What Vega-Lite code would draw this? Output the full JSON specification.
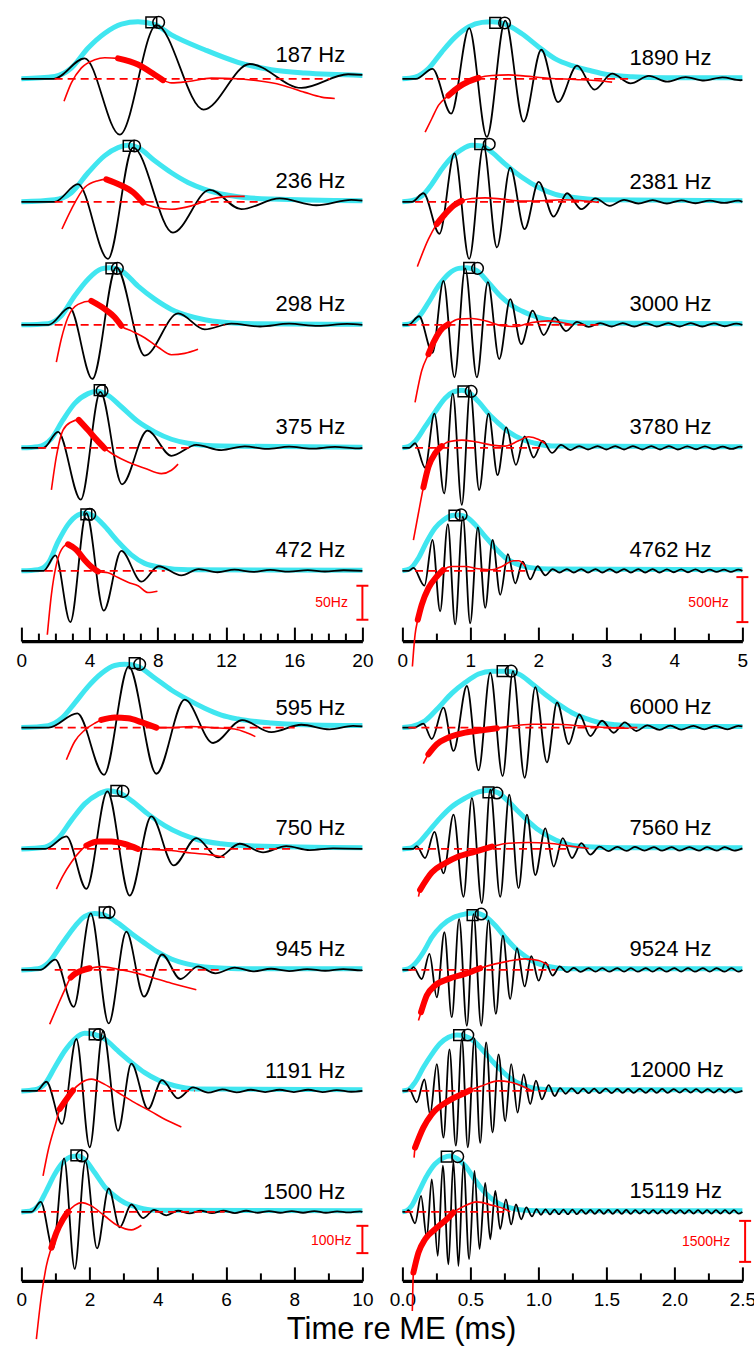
{
"$schema":"https://vega.github.io/schema/vega-lite/v6.json",
"padding":{"left":11.4,"top":10.9,"right":2,"bottom":0},
"background":"white",
"config":{"view":{"stroke":null},"font":"Liberation Sans","axis":{"tickWidth":2,"tickColor":"#000","domainColor":"#000","domainWidth":3.3,"labelFontSize":19,"labelColor":"#000","labelPadding":24,"labelFlush":false,"labelOverlap":false,"grid":false}},
"title":{"text":"Time re ME (ms)","orient":"bottom","fontSize":31,"fontWeight":"normal","color":"#000","anchor":"middle","offset":-27,"dx":18},
"datasets":{"d":[
{"f":187,"s":"w","t":0,"v":0},{"f":187,"s":"w","t":1.9,"v":0},{"f":187,"s":"w","t":3.71,"v":36},{"f":187,"s":"w","t":5.77,"v":-98},{"f":187,"s":"w","t":7.92,"v":94},{"f":187,"s":"w","t":10.69,"v":-54},{"f":187,"s":"w","t":13.39,"v":26},{"f":187,"s":"w","t":16.42,"v":-16},{"f":187,"s":"w","t":19.16,"v":8},{"f":187,"s":"w","t":20,"v":7},
{"f":187,"s":"e","t":0,"v":0},{"f":187,"s":"e","t":1.95,"v":4},{"f":187,"s":"e","t":2.93,"v":19},{"f":187,"s":"e","t":3.91,"v":54},{"f":187,"s":"e","t":4.89,"v":80},{"f":187,"s":"e","t":5.87,"v":96},{"f":187,"s":"e","t":6.84,"v":100},{"f":187,"s":"e","t":7.82,"v":95},{"f":187,"s":"e","t":8.8,"v":77},{"f":187,"s":"e","t":10.75,"v":51},{"f":187,"s":"e","t":12.7,"v":29},{"f":187,"s":"e","t":14.66,"v":16},{"f":187,"s":"e","t":16.62,"v":10},{"f":187,"s":"e","t":20,"v":6},
{"f":187,"s":"r","t":2.5,"v":-33},{"f":187,"s":"r","t":2.93,"v":-6},{"f":187,"s":"r","t":3.52,"v":16},{"f":187,"s":"r","t":4.3,"v":28},{"f":187,"s":"r","t":4.89,"v":31},{"f":187,"s":"r","t":5.67,"v":30},{"f":187,"s":"r","t":6.84,"v":21},{"f":187,"s":"r","t":7.82,"v":6},{"f":187,"s":"r","t":8.31,"v":-2},{"f":187,"s":"r","t":8.8,"v":-6},{"f":187,"s":"r","t":9.77,"v":-4},{"f":187,"s":"r","t":11.14,"v":1},{"f":187,"s":"r","t":12.7,"v":0},{"f":187,"s":"r","t":13.88,"v":-3},{"f":187,"s":"r","t":15.25,"v":-9},{"f":187,"s":"r","t":16.62,"v":-20},{"f":187,"s":"r","t":17.6,"v":-27},{"f":187,"s":"r","t":18.38,"v":-29},
{"f":187,"s":"k","t":5.67,"v":30},{"f":187,"s":"k","t":6.84,"v":21},{"f":187,"s":"k","t":7.82,"v":6},{"f":187,"s":"k","t":8.31,"v":-2},
{"f":187,"s":"d","t":1.95,"v":0},{"f":187,"s":"d","t":18.1,"v":0},
{"f":187,"s":"q","t":7.62,"v":99},{"f":187,"s":"c","t":8.05,"v":99},{"f":187,"s":"L","t":18.99,"v":42,"l":"187 Hz"},
{"f":236,"s":"w","t":0,"v":0},{"f":236,"s":"w","t":1.95,"v":0},{"f":236,"s":"w","t":3.32,"v":31},{"f":236,"s":"w","t":5.08,"v":-100},{"f":236,"s":"w","t":6.55,"v":95},{"f":236,"s":"w","t":8.89,"v":-54},{"f":236,"s":"w","t":11.04,"v":21},{"f":236,"s":"w","t":12.9,"v":-13},{"f":236,"s":"w","t":15.15,"v":6},{"f":236,"s":"w","t":17.3,"v":-6},{"f":236,"s":"w","t":19.35,"v":3.5},{"f":236,"s":"w","t":20,"v":2},
{"f":236,"s":"e","t":0,"v":0},{"f":236,"s":"e","t":1.95,"v":3.5},{"f":236,"s":"e","t":2.93,"v":16},{"f":236,"s":"e","t":3.91,"v":51},{"f":236,"s":"e","t":4.89,"v":81},{"f":236,"s":"e","t":5.67,"v":95},{"f":236,"s":"e","t":6.25,"v":99},{"f":236,"s":"e","t":6.84,"v":95},{"f":236,"s":"e","t":7.82,"v":72},{"f":236,"s":"e","t":8.8,"v":51},{"f":236,"s":"e","t":9.77,"v":34},{"f":236,"s":"e","t":10.75,"v":22},{"f":236,"s":"e","t":12.7,"v":9},{"f":236,"s":"e","t":14.66,"v":5},{"f":236,"s":"e","t":20,"v":2},
{"f":236,"s":"r","t":2.38,"v":-40},{"f":236,"s":"r","t":2.93,"v":-11},{"f":236,"s":"r","t":3.71,"v":21},{"f":236,"s":"r","t":4.49,"v":31},{"f":236,"s":"r","t":4.98,"v":33},{"f":236,"s":"r","t":5.86,"v":24},{"f":236,"s":"r","t":6.55,"v":14},{"f":236,"s":"r","t":7.13,"v":-1},{"f":236,"s":"r","t":7.82,"v":-8},{"f":236,"s":"r","t":8.8,"v":-11},{"f":236,"s":"r","t":9.97,"v":-6},{"f":236,"s":"r","t":11.14,"v":4},{"f":236,"s":"r","t":12.31,"v":8},{"f":236,"s":"r","t":13.1,"v":8},
{"f":236,"s":"k","t":4.98,"v":33},{"f":236,"s":"k","t":5.86,"v":24},{"f":236,"s":"k","t":6.55,"v":14},{"f":236,"s":"k","t":7.13,"v":-1},
{"f":236,"s":"d","t":1.95,"v":0},{"f":236,"s":"d","t":14.07,"v":0},
{"f":236,"s":"q","t":6.29,"v":98},{"f":236,"s":"c","t":6.64,"v":98},{"f":236,"s":"L","t":18.99,"v":36,"l":"236 Hz"},
{"f":298,"s":"w","t":0,"v":0},{"f":298,"s":"w","t":1.6,"v":0},{"f":298,"s":"w","t":2.83,"v":30},{"f":298,"s":"w","t":4.16,"v":-95},{"f":298,"s":"w","t":5.57,"v":101},{"f":298,"s":"w","t":7.23,"v":-54},{"f":298,"s":"w","t":9.19,"v":20},{"f":298,"s":"w","t":10.75,"v":-8},{"f":298,"s":"w","t":12.31,"v":2},{"f":298,"s":"w","t":14.0,"v":-3},{"f":298,"s":"w","t":15.7,"v":2},{"f":298,"s":"w","t":17.4,"v":-2},{"f":298,"s":"w","t":19.1,"v":1.5},{"f":298,"s":"w","t":20,"v":0},
{"f":298,"s":"e","t":0,"v":0},{"f":298,"s":"e","t":1.56,"v":2},{"f":298,"s":"e","t":2.34,"v":16},{"f":298,"s":"e","t":3.13,"v":51},{"f":298,"s":"e","t":3.91,"v":80},{"f":298,"s":"e","t":4.69,"v":98},{"f":298,"s":"e","t":5.18,"v":100},{"f":298,"s":"e","t":5.86,"v":95},{"f":298,"s":"e","t":6.84,"v":68},{"f":298,"s":"e","t":7.82,"v":45},{"f":298,"s":"e","t":8.8,"v":27},{"f":298,"s":"e","t":9.77,"v":16},{"f":298,"s":"e","t":10.75,"v":9},{"f":298,"s":"e","t":11.73,"v":5},{"f":298,"s":"e","t":13.68,"v":2},{"f":298,"s":"e","t":20,"v":1},
{"f":298,"s":"r","t":2.05,"v":-55},{"f":298,"s":"r","t":2.34,"v":-21},{"f":298,"s":"r","t":2.73,"v":11},{"f":298,"s":"r","t":3.32,"v":30},{"f":298,"s":"r","t":4.1,"v":35},{"f":298,"s":"r","t":4.89,"v":23},{"f":298,"s":"r","t":5.47,"v":11},{"f":298,"s":"r","t":5.86,"v":-1.5},{"f":298,"s":"r","t":6.45,"v":-9},{"f":298,"s":"r","t":7.23,"v":-19},{"f":298,"s":"r","t":8.02,"v":-33},{"f":298,"s":"r","t":8.8,"v":-44},{"f":298,"s":"r","t":9.58,"v":-42},{"f":298,"s":"r","t":10.36,"v":-36},
{"f":298,"s":"k","t":4.1,"v":35},{"f":298,"s":"k","t":4.89,"v":23},{"f":298,"s":"k","t":5.47,"v":11},{"f":298,"s":"k","t":5.86,"v":-1.5},
{"f":298,"s":"d","t":1.95,"v":0},{"f":298,"s":"d","t":11.92,"v":0},
{"f":298,"s":"q","t":5.28,"v":99},{"f":298,"s":"c","t":5.63,"v":99},{"f":298,"s":"L","t":18.99,"v":36,"l":"298 Hz"},
{"f":375,"s":"w","t":0,"v":0},{"f":375,"s":"w","t":1.3,"v":0},{"f":375,"s":"w","t":2.15,"v":28},{"f":375,"s":"w","t":3.48,"v":-91},{"f":375,"s":"w","t":4.63,"v":98},{"f":375,"s":"w","t":5.9,"v":-64},{"f":375,"s":"w","t":7.39,"v":30},{"f":375,"s":"w","t":8.8,"v":-14},{"f":375,"s":"w","t":10.26,"v":5},{"f":375,"s":"w","t":11.73,"v":-4},{"f":375,"s":"w","t":13.1,"v":2.5},{"f":375,"s":"w","t":14.4,"v":-2},{"f":375,"s":"w","t":15.7,"v":2},{"f":375,"s":"w","t":17.0,"v":-1.5},{"f":375,"s":"w","t":18.4,"v":1.5},{"f":375,"s":"w","t":19.7,"v":-1},{"f":375,"s":"w","t":20,"v":0},
{"f":375,"s":"e","t":0,"v":0},{"f":375,"s":"e","t":0.98,"v":2},{"f":375,"s":"e","t":1.76,"v":16},{"f":375,"s":"e","t":2.44,"v":49},{"f":375,"s":"e","t":3.13,"v":78},{"f":375,"s":"e","t":3.91,"v":95},{"f":375,"s":"e","t":4.4,"v":99},{"f":375,"s":"e","t":5.08,"v":92},{"f":375,"s":"e","t":5.86,"v":72},{"f":375,"s":"e","t":6.84,"v":46},{"f":375,"s":"e","t":7.82,"v":28},{"f":375,"s":"e","t":8.8,"v":15},{"f":375,"s":"e","t":9.77,"v":8},{"f":375,"s":"e","t":11.73,"v":3},{"f":375,"s":"e","t":20,"v":1},
{"f":375,"s":"r","t":1.76,"v":-62},{"f":375,"s":"r","t":2.05,"v":-13},{"f":375,"s":"r","t":2.44,"v":26},{"f":375,"s":"r","t":2.93,"v":38},{"f":375,"s":"r","t":3.36,"v":41},{"f":375,"s":"r","t":3.91,"v":26},{"f":375,"s":"r","t":4.4,"v":12},{"f":375,"s":"r","t":4.89,"v":-1},{"f":375,"s":"r","t":5.47,"v":-11},{"f":375,"s":"r","t":6.25,"v":-21},{"f":375,"s":"r","t":7.23,"v":-30},{"f":375,"s":"r","t":8.21,"v":-38},{"f":375,"s":"r","t":8.8,"v":-33},{"f":375,"s":"r","t":9.19,"v":-24},
{"f":375,"s":"k","t":3.36,"v":41},{"f":375,"s":"k","t":3.91,"v":26},{"f":375,"s":"k","t":4.4,"v":12},{"f":375,"s":"k","t":4.89,"v":-1},
{"f":375,"s":"d","t":0.98,"v":0},{"f":375,"s":"d","t":9.97,"v":0},
{"f":375,"s":"q","t":4.59,"v":101},{"f":375,"s":"c","t":4.73,"v":100},{"f":375,"s":"L","t":18.99,"v":36,"l":"375 Hz"},
{"f":472,"s":"w","t":0,"v":0},{"f":472,"s":"w","t":1.3,"v":0},{"f":472,"s":"w","t":2.0,"v":27},{"f":472,"s":"w","t":2.87,"v":-90},{"f":472,"s":"w","t":3.81,"v":101},{"f":472,"s":"w","t":4.83,"v":-70},{"f":472,"s":"w","t":5.86,"v":35},{"f":472,"s":"w","t":7.04,"v":-19},{"f":472,"s":"w","t":8.05,"v":8},{"f":472,"s":"w","t":9.38,"v":-8},{"f":472,"s":"w","t":10.4,"v":3},{"f":472,"s":"w","t":11.5,"v":-2.5},{"f":472,"s":"w","t":12.5,"v":2},{"f":472,"s":"w","t":13.6,"v":-2},{"f":472,"s":"w","t":14.6,"v":1.5},{"f":472,"s":"w","t":15.7,"v":-1.5},{"f":472,"s":"w","t":16.8,"v":1.2},{"f":472,"s":"w","t":17.8,"v":-1.2},{"f":472,"s":"w","t":18.9,"v":1},{"f":472,"s":"w","t":20,"v":0},
{"f":472,"s":"e","t":0,"v":0},{"f":472,"s":"e","t":0.98,"v":2},{"f":472,"s":"e","t":1.56,"v":13},{"f":472,"s":"e","t":2.15,"v":51},{"f":472,"s":"e","t":2.73,"v":81},{"f":472,"s":"e","t":3.32,"v":98},{"f":472,"s":"e","t":3.71,"v":101},{"f":472,"s":"e","t":4.3,"v":95},{"f":472,"s":"e","t":4.89,"v":78},{"f":472,"s":"e","t":5.67,"v":51},{"f":472,"s":"e","t":6.45,"v":28},{"f":472,"s":"e","t":7.23,"v":13},{"f":472,"s":"e","t":8.21,"v":6},{"f":472,"s":"e","t":9.77,"v":2},{"f":472,"s":"e","t":20,"v":1},
{"f":472,"s":"r","t":1.52,"v":-94},{"f":472,"s":"r","t":1.76,"v":-35},{"f":472,"s":"r","t":2.05,"v":9},{"f":472,"s":"r","t":2.35,"v":31},{"f":472,"s":"r","t":2.73,"v":39},{"f":472,"s":"r","t":3.22,"v":31},{"f":472,"s":"r","t":3.71,"v":16},{"f":472,"s":"r","t":4.1,"v":6},{"f":472,"s":"r","t":4.49,"v":-1},{"f":472,"s":"r","t":5.08,"v":-3},{"f":472,"s":"r","t":5.67,"v":-10},{"f":472,"s":"r","t":6.25,"v":-17},{"f":472,"s":"r","t":6.84,"v":-22},{"f":472,"s":"r","t":7.43,"v":-32},{"f":472,"s":"r","t":7.98,"v":-30},
{"f":472,"s":"k","t":2.73,"v":39},{"f":472,"s":"k","t":3.22,"v":31},{"f":472,"s":"k","t":3.71,"v":16},{"f":472,"s":"k","t":4.1,"v":6},{"f":472,"s":"k","t":4.49,"v":-1},
{"f":472,"s":"d","t":1.37,"v":0},{"f":472,"s":"d","t":8.41,"v":0},
{"f":472,"s":"q","t":3.81,"v":99},{"f":472,"s":"c","t":4.01,"v":99},{"f":472,"s":"L","t":18.99,"v":36,"l":"472 Hz"},
{"f":472,"s":"b","t":20,"v":-22,"v2":-72},{"f":472,"s":"bc","t":20,"v":-22},{"f":472,"s":"bc","t":20,"v":-72},{"f":472,"s":"bl","t":19.15,"v":-47,"l":"50Hz"},
{"f":1890,"s":"w","t":0,"v":0},{"f":1890,"s":"w","t":0.2,"v":0},{"f":1890,"s":"w","t":0.442,"v":17.5},{"f":1890,"s":"w","t":0.717,"v":-61},{"f":1890,"s":"w","t":0.982,"v":89},{"f":1890,"s":"w","t":1.242,"v":-102},{"f":1890,"s":"w","t":1.512,"v":102},{"f":1890,"s":"w","t":1.783,"v":-75},{"f":1890,"s":"w","t":2.043,"v":51},{"f":1890,"s":"w","t":2.289,"v":-41},{"f":1890,"s":"w","t":2.569,"v":23},{"f":1890,"s":"w","t":2.824,"v":-19},{"f":1890,"s":"w","t":3.084,"v":9},{"f":1890,"s":"w","t":3.354,"v":-8},{"f":1890,"s":"w","t":3.625,"v":5},{"f":1890,"s":"w","t":3.895,"v":-5},{"f":1890,"s":"w","t":4.165,"v":3},{"f":1890,"s":"w","t":4.435,"v":-3},{"f":1890,"s":"w","t":4.705,"v":2.5},{"f":1890,"s":"w","t":4.975,"v":-2.5},{"f":1890,"s":"w","t":5,"v":-2},
{"f":1890,"s":"e","t":0,"v":0},{"f":1890,"s":"e","t":0.186,"v":3},{"f":1890,"s":"e","t":0.383,"v":18},{"f":1890,"s":"e","t":0.579,"v":47},{"f":1890,"s":"e","t":0.776,"v":73},{"f":1890,"s":"e","t":0.972,"v":91},{"f":1890,"s":"e","t":1.169,"v":99},{"f":1890,"s":"e","t":1.316,"v":100},{"f":1890,"s":"e","t":1.512,"v":96},{"f":1890,"s":"e","t":1.758,"v":79},{"f":1890,"s":"e","t":2.004,"v":56},{"f":1890,"s":"e","t":2.249,"v":35},{"f":1890,"s":"e","t":2.495,"v":23},{"f":1890,"s":"e","t":2.741,"v":15},{"f":1890,"s":"e","t":3.035,"v":7},{"f":1890,"s":"e","t":3.379,"v":3.5},{"f":1890,"s":"e","t":3.87,"v":2},{"f":1890,"s":"e","t":5,"v":2},
{"f":1890,"s":"r","t":0.334,"v":-593},{"f":1890,"s":"r","t":0.432,"v":-444},{"f":1890,"s":"r","t":0.53,"v":-296},{"f":1890,"s":"r","t":0.677,"v":-185},{"f":1890,"s":"r","t":0.825,"v":-93},{"f":1890,"s":"r","t":0.972,"v":-30},{"f":1890,"s":"r","t":1.119,"v":11},{"f":1890,"s":"r","t":1.316,"v":37},{"f":1890,"s":"r","t":1.561,"v":44},{"f":1890,"s":"r","t":1.807,"v":30},{"f":1890,"s":"r","t":2.151,"v":7},{"f":1890,"s":"r","t":2.544,"v":-7},{"f":1890,"s":"r","t":2.888,"v":-22},{"f":1890,"s":"r","t":3.084,"v":-37},
{"f":1890,"s":"k","t":0.677,"v":-185},{"f":1890,"s":"k","t":0.825,"v":-93},{"f":1890,"s":"k","t":0.972,"v":-30},{"f":1890,"s":"k","t":1.119,"v":11},
{"f":1890,"s":"d","t":0.334,"v":0},{"f":1890,"s":"d","t":3.379,"v":0},
{"f":1890,"s":"q","t":1.365,"v":98},{"f":1890,"s":"c","t":1.503,"v":98},{"f":1890,"s":"L","t":3.34,"v":36,"l":"1890 Hz"},
{"f":2381,"s":"w","t":0,"v":0},{"f":2381,"s":"w","t":0.14,"v":0},{"f":2381,"s":"w","t":0.309,"v":15},{"f":2381,"s":"w","t":0.545,"v":-56},{"f":2381,"s":"w","t":0.766,"v":85},{"f":2381,"s":"w","t":0.982,"v":-100},{"f":2381,"s":"w","t":1.193,"v":98},{"f":2381,"s":"w","t":1.39,"v":-80},{"f":2381,"s":"w","t":1.586,"v":60},{"f":2381,"s":"w","t":1.797,"v":-48},{"f":2381,"s":"w","t":2.004,"v":35},{"f":2381,"s":"w","t":2.225,"v":-26},{"f":2381,"s":"w","t":2.421,"v":15},{"f":2381,"s":"w","t":2.632,"v":-13},{"f":2381,"s":"w","t":2.839,"v":6},{"f":2381,"s":"w","t":3.05,"v":-7},{"f":2381,"s":"w","t":3.26,"v":3.5},{"f":2381,"s":"w","t":3.47,"v":-3},{"f":2381,"s":"w","t":3.68,"v":3},{"f":2381,"s":"w","t":3.89,"v":-3},{"f":2381,"s":"w","t":4.1,"v":2.5},{"f":2381,"s":"w","t":4.31,"v":-2.5},{"f":2381,"s":"w","t":4.52,"v":2},{"f":2381,"s":"w","t":4.73,"v":-2},{"f":2381,"s":"w","t":4.94,"v":2},{"f":2381,"s":"w","t":5,"v":0},
{"f":2381,"s":"e","t":0,"v":0},{"f":2381,"s":"e","t":0.137,"v":2},{"f":2381,"s":"e","t":0.284,"v":10},{"f":2381,"s":"e","t":0.432,"v":31},{"f":2381,"s":"e","t":0.579,"v":57},{"f":2381,"s":"e","t":0.726,"v":78},{"f":2381,"s":"e","t":0.874,"v":92},{"f":2381,"s":"e","t":1.021,"v":99},{"f":2381,"s":"e","t":1.169,"v":98},{"f":2381,"s":"e","t":1.316,"v":87},{"f":2381,"s":"e","t":1.512,"v":66},{"f":2381,"s":"e","t":1.758,"v":43},{"f":2381,"s":"e","t":2.004,"v":25},{"f":2381,"s":"e","t":2.249,"v":13},{"f":2381,"s":"e","t":2.495,"v":8},{"f":2381,"s":"e","t":2.888,"v":3.5},{"f":2381,"s":"e","t":5,"v":2},
{"f":2381,"s":"r","t":0.22,"v":-720},{"f":2381,"s":"r","t":0.383,"v":-415},{"f":2381,"s":"r","t":0.505,"v":-248},{"f":2381,"s":"r","t":0.628,"v":-137},{"f":2381,"s":"r","t":0.751,"v":-44},{"f":2381,"s":"r","t":0.874,"v":11},{"f":2381,"s":"r","t":1.021,"v":37},{"f":2381,"s":"r","t":1.218,"v":44},{"f":2381,"s":"r","t":1.463,"v":30},{"f":2381,"s":"r","t":1.758,"v":7},{"f":2381,"s":"r","t":2.053,"v":11},{"f":2381,"s":"r","t":2.348,"v":22},{"f":2381,"s":"r","t":2.642,"v":11},{"f":2381,"s":"r","t":2.888,"v":-7},
{"f":2381,"s":"k","t":0.505,"v":-248},{"f":2381,"s":"k","t":0.628,"v":-137},{"f":2381,"s":"k","t":0.751,"v":-44},{"f":2381,"s":"k","t":0.874,"v":11},
{"f":2381,"s":"d","t":0.186,"v":0},{"f":2381,"s":"d","t":2.888,"v":0},
{"f":2381,"s":"q","t":1.144,"v":101},{"f":2381,"s":"c","t":1.277,"v":101},{"f":2381,"s":"L","t":3.34,"v":35,"l":"2381 Hz"},
{"f":3000,"s":"w","t":0,"v":0},{"f":3000,"s":"w","t":0.09,"v":0},{"f":3000,"s":"w","t":0.245,"v":15},{"f":3000,"s":"w","t":0.442,"v":-49},{"f":3000,"s":"w","t":0.604,"v":77},{"f":3000,"s":"w","t":0.766,"v":-92},{"f":3000,"s":"w","t":0.923,"v":99},{"f":3000,"s":"w","t":1.095,"v":-92},{"f":3000,"s":"w","t":1.257,"v":75},{"f":3000,"s":"w","t":1.424,"v":-60},{"f":3000,"s":"w","t":1.586,"v":45},{"f":3000,"s":"w","t":1.748,"v":-34},{"f":3000,"s":"w","t":1.915,"v":25},{"f":3000,"s":"w","t":2.077,"v":-18},{"f":3000,"s":"w","t":2.239,"v":13},{"f":3000,"s":"w","t":2.406,"v":-11},{"f":3000,"s":"w","t":2.569,"v":5},{"f":3000,"s":"w","t":2.74,"v":-3.5},{"f":3000,"s":"w","t":2.91,"v":3},{"f":3000,"s":"w","t":3.08,"v":-3},{"f":3000,"s":"w","t":3.24,"v":3},{"f":3000,"s":"w","t":3.41,"v":-3},{"f":3000,"s":"w","t":3.58,"v":3},{"f":3000,"s":"w","t":3.74,"v":-3},{"f":3000,"s":"w","t":3.91,"v":3},{"f":3000,"s":"w","t":4.08,"v":-3},{"f":3000,"s":"w","t":4.24,"v":3},{"f":3000,"s":"w","t":4.41,"v":-3},{"f":3000,"s":"w","t":4.58,"v":2.5},{"f":3000,"s":"w","t":4.74,"v":-2.5},{"f":3000,"s":"w","t":4.91,"v":2},{"f":3000,"s":"w","t":5,"v":0},
{"f":3000,"s":"e","t":0,"v":0},{"f":3000,"s":"e","t":0.088,"v":1},{"f":3000,"s":"e","t":0.235,"v":13},{"f":3000,"s":"e","t":0.383,"v":39},{"f":3000,"s":"e","t":0.53,"v":68},{"f":3000,"s":"e","t":0.677,"v":89},{"f":3000,"s":"e","t":0.825,"v":99},{"f":3000,"s":"e","t":0.947,"v":100},{"f":3000,"s":"e","t":1.095,"v":95},{"f":3000,"s":"e","t":1.267,"v":74},{"f":3000,"s":"e","t":1.463,"v":48},{"f":3000,"s":"e","t":1.66,"v":30},{"f":3000,"s":"e","t":1.856,"v":19},{"f":3000,"s":"e","t":2.053,"v":11},{"f":3000,"s":"e","t":2.298,"v":6},{"f":3000,"s":"e","t":2.642,"v":3},{"f":3000,"s":"e","t":5,"v":2},
{"f":3000,"s":"r","t":0.186,"v":-863},{"f":3000,"s":"r","t":0.284,"v":-511},{"f":3000,"s":"r","t":0.383,"v":-326},{"f":3000,"s":"r","t":0.456,"v":-196},{"f":3000,"s":"r","t":0.555,"v":-67},{"f":3000,"s":"r","t":0.677,"v":7},{"f":3000,"s":"r","t":0.825,"v":63},{"f":3000,"s":"r","t":1.021,"v":70},{"f":3000,"s":"r","t":1.218,"v":44},{"f":3000,"s":"r","t":1.463,"v":-11},{"f":3000,"s":"r","t":1.66,"v":-19},{"f":3000,"s":"r","t":1.905,"v":26},{"f":3000,"s":"r","t":2.151,"v":44},{"f":3000,"s":"r","t":2.348,"v":26},{"f":3000,"s":"r","t":2.495,"v":0},
{"f":3000,"s":"k","t":0.383,"v":-326},{"f":3000,"s":"k","t":0.456,"v":-196},{"f":3000,"s":"k","t":0.555,"v":-67},{"f":3000,"s":"k","t":0.677,"v":7},
{"f":3000,"s":"d","t":0.088,"v":0},{"f":3000,"s":"d","t":2.888,"v":0},
{"f":3000,"s":"q","t":0.982,"v":100},{"f":3000,"s":"c","t":1.105,"v":99},{"f":3000,"s":"L","t":3.34,"v":36,"l":"3000 Hz"},
{"f":3780,"s":"w","t":0,"v":0},{"f":3780,"s":"w","t":0.1,"v":0},{"f":3780,"s":"w","t":0.186,"v":8},{"f":3780,"s":"w","t":0.334,"v":-35},{"f":3780,"s":"w","t":0.471,"v":60},{"f":3780,"s":"w","t":0.614,"v":-80},{"f":3780,"s":"w","t":0.741,"v":95},{"f":3780,"s":"w","t":0.874,"v":-100},{"f":3780,"s":"w","t":0.997,"v":101},{"f":3780,"s":"w","t":1.129,"v":-74},{"f":3780,"s":"w","t":1.267,"v":60},{"f":3780,"s":"w","t":1.4,"v":-48},{"f":3780,"s":"w","t":1.527,"v":36},{"f":3780,"s":"w","t":1.67,"v":-30},{"f":3780,"s":"w","t":1.797,"v":20},{"f":3780,"s":"w","t":1.93,"v":-17},{"f":3780,"s":"w","t":2.063,"v":12},{"f":3780,"s":"w","t":2.2,"v":-9},{"f":3780,"s":"w","t":2.333,"v":5},{"f":3780,"s":"w","t":2.47,"v":-4},{"f":3780,"s":"w","t":2.6,"v":3},{"f":3780,"s":"w","t":2.73,"v":-3},{"f":3780,"s":"w","t":2.87,"v":3},{"f":3780,"s":"w","t":3.0,"v":-3},{"f":3780,"s":"w","t":3.13,"v":3},{"f":3780,"s":"w","t":3.26,"v":-3},{"f":3780,"s":"w","t":3.39,"v":3},{"f":3780,"s":"w","t":3.53,"v":-3},{"f":3780,"s":"w","t":3.66,"v":3},{"f":3780,"s":"w","t":3.79,"v":-3},{"f":3780,"s":"w","t":3.92,"v":3},{"f":3780,"s":"w","t":4.05,"v":-3},{"f":3780,"s":"w","t":4.19,"v":2.5},{"f":3780,"s":"w","t":4.32,"v":-2.5},{"f":3780,"s":"w","t":4.45,"v":2.5},{"f":3780,"s":"w","t":4.58,"v":-2.5},{"f":3780,"s":"w","t":4.71,"v":2},{"f":3780,"s":"w","t":4.84,"v":-2},{"f":3780,"s":"w","t":4.97,"v":2},{"f":3780,"s":"w","t":5,"v":1},
{"f":3780,"s":"e","t":0,"v":0},{"f":3780,"s":"e","t":0.088,"v":2},{"f":3780,"s":"e","t":0.186,"v":11},{"f":3780,"s":"e","t":0.334,"v":37},{"f":3780,"s":"e","t":0.481,"v":63},{"f":3780,"s":"e","t":0.628,"v":87},{"f":3780,"s":"e","t":0.751,"v":98},{"f":3780,"s":"e","t":0.874,"v":101},{"f":3780,"s":"e","t":0.997,"v":95},{"f":3780,"s":"e","t":1.119,"v":81},{"f":3780,"s":"e","t":1.267,"v":60},{"f":3780,"s":"e","t":1.414,"v":43},{"f":3780,"s":"e","t":1.561,"v":28},{"f":3780,"s":"e","t":1.758,"v":15},{"f":3780,"s":"e","t":1.954,"v":8},{"f":3780,"s":"e","t":2.2,"v":3},{"f":3780,"s":"e","t":5,"v":2},
{"f":3780,"s":"r","t":0.162,"v":-1026},{"f":3780,"s":"r","t":0.235,"v":-730},{"f":3780,"s":"r","t":0.309,"v":-440},{"f":3780,"s":"r","t":0.383,"v":-211},{"f":3780,"s":"r","t":0.481,"v":-63},{"f":3780,"s":"r","t":0.579,"v":19},{"f":3780,"s":"r","t":0.677,"v":67},{"f":3780,"s":"r","t":0.874,"v":85},{"f":3780,"s":"r","t":1.07,"v":67},{"f":3780,"s":"r","t":1.316,"v":30},{"f":3780,"s":"r","t":1.512,"v":19},{"f":3780,"s":"r","t":1.709,"v":78},{"f":3780,"s":"r","t":1.856,"v":122},{"f":3780,"s":"r","t":2.004,"v":93},{"f":3780,"s":"r","t":2.102,"v":48},
{"f":3780,"s":"k","t":0.309,"v":-440},{"f":3780,"s":"k","t":0.383,"v":-211},{"f":3780,"s":"k","t":0.481,"v":-63},{"f":3780,"s":"k","t":0.579,"v":19},
{"f":3780,"s":"d","t":0.186,"v":0},{"f":3780,"s":"d","t":2.053,"v":0},
{"f":3780,"s":"q","t":0.898,"v":99},{"f":3780,"s":"c","t":1.011,"v":99},{"f":3780,"s":"L","t":3.34,"v":36,"l":"3780 Hz"},
{"f":4762,"s":"w","t":0,"v":0},{"f":4762,"s":"w","t":0.09,"v":0},{"f":4762,"s":"w","t":0.162,"v":5},{"f":4762,"s":"w","t":0.324,"v":-26},{"f":4762,"s":"w","t":0.442,"v":54},{"f":4762,"s":"w","t":0.555,"v":-71},{"f":4762,"s":"w","t":0.668,"v":82},{"f":4762,"s":"w","t":0.776,"v":-94},{"f":4762,"s":"w","t":0.889,"v":95},{"f":4762,"s":"w","t":0.997,"v":-92},{"f":4762,"s":"w","t":1.11,"v":76},{"f":4762,"s":"w","t":1.218,"v":-65},{"f":4762,"s":"w","t":1.326,"v":54},{"f":4762,"s":"w","t":1.439,"v":-42},{"f":4762,"s":"w","t":1.552,"v":29},{"f":4762,"s":"w","t":1.66,"v":-22},{"f":4762,"s":"w","t":1.768,"v":16},{"f":4762,"s":"w","t":1.881,"v":-15},{"f":4762,"s":"w","t":1.989,"v":8},{"f":4762,"s":"w","t":2.102,"v":-8},{"f":4762,"s":"w","t":2.21,"v":3},{"f":4762,"s":"w","t":2.31,"v":-3},{"f":4762,"s":"w","t":2.42,"v":3},{"f":4762,"s":"w","t":2.52,"v":-3},{"f":4762,"s":"w","t":2.63,"v":3},{"f":4762,"s":"w","t":2.73,"v":-3},{"f":4762,"s":"w","t":2.84,"v":3},{"f":4762,"s":"w","t":2.94,"v":-3},{"f":4762,"s":"w","t":3.05,"v":3},{"f":4762,"s":"w","t":3.15,"v":-3},{"f":4762,"s":"w","t":3.26,"v":3},{"f":4762,"s":"w","t":3.36,"v":-3},{"f":4762,"s":"w","t":3.47,"v":3},{"f":4762,"s":"w","t":3.57,"v":-3},{"f":4762,"s":"w","t":3.68,"v":3},{"f":4762,"s":"w","t":3.78,"v":-3},{"f":4762,"s":"w","t":3.89,"v":2.5},{"f":4762,"s":"w","t":3.99,"v":-2.5},{"f":4762,"s":"w","t":4.1,"v":2.5},{"f":4762,"s":"w","t":4.2,"v":-2.5},{"f":4762,"s":"w","t":4.31,"v":2.5},{"f":4762,"s":"w","t":4.41,"v":-2.5},{"f":4762,"s":"w","t":4.52,"v":2},{"f":4762,"s":"w","t":4.62,"v":-2},{"f":4762,"s":"w","t":4.73,"v":2},{"f":4762,"s":"w","t":4.83,"v":-2},{"f":4762,"s":"w","t":4.94,"v":2},{"f":4762,"s":"w","t":5,"v":0},
{"f":4762,"s":"e","t":0,"v":0},{"f":4762,"s":"e","t":0.113,"v":3.5},{"f":4762,"s":"e","t":0.235,"v":22},{"f":4762,"s":"e","t":0.358,"v":51},{"f":4762,"s":"e","t":0.481,"v":75},{"f":4762,"s":"e","t":0.604,"v":89},{"f":4762,"s":"e","t":0.726,"v":97},{"f":4762,"s":"e","t":0.825,"v":98},{"f":4762,"s":"e","t":0.947,"v":94},{"f":4762,"s":"e","t":1.07,"v":81},{"f":4762,"s":"e","t":1.218,"v":60},{"f":4762,"s":"e","t":1.365,"v":40},{"f":4762,"s":"e","t":1.512,"v":23},{"f":4762,"s":"e","t":1.66,"v":13},{"f":4762,"s":"e","t":1.856,"v":6},{"f":4762,"s":"e","t":2.151,"v":3},{"f":4762,"s":"e","t":5,"v":2},
{"f":4762,"s":"r","t":0.147,"v":-1063},{"f":4762,"s":"r","t":0.186,"v":-711},{"f":4762,"s":"r","t":0.226,"v":-544},{"f":4762,"s":"r","t":0.284,"v":-378},{"f":4762,"s":"r","t":0.383,"v":-193},{"f":4762,"s":"r","t":0.505,"v":-63},{"f":4762,"s":"r","t":0.604,"v":11},{"f":4762,"s":"r","t":0.726,"v":48},{"f":4762,"s":"r","t":0.923,"v":48},{"f":4762,"s":"r","t":1.119,"v":22},{"f":4762,"s":"r","t":1.316,"v":11},{"f":4762,"s":"r","t":1.463,"v":48},{"f":4762,"s":"r","t":1.635,"v":111},{"f":4762,"s":"r","t":1.709,"v":111},{"f":4762,"s":"r","t":1.807,"v":48},
{"f":4762,"s":"k","t":0.226,"v":-544},{"f":4762,"s":"k","t":0.284,"v":-378},{"f":4762,"s":"k","t":0.383,"v":-193},{"f":4762,"s":"k","t":0.505,"v":-63},{"f":4762,"s":"k","t":0.604,"v":11},
{"f":4762,"s":"d","t":0.186,"v":0},{"f":4762,"s":"d","t":1.807,"v":0},
{"f":4762,"s":"q","t":0.766,"v":97},{"f":4762,"s":"c","t":0.864,"v":98},{"f":4762,"s":"L","t":3.34,"v":36,"l":"4762 Hz"},
{"f":4762,"s":"b","t":5,"v":-70,"v2":-570},{"f":4762,"s":"bc","t":5,"v":-70},{"f":4762,"s":"bc","t":5,"v":-570},{"f":4762,"s":"bl","t":4.8,"v":-359,"l":"500Hz"},
{"f":595,"s":"w","t":0,"v":0},{"f":595,"s":"w","t":0.8,"v":0},{"f":595,"s":"w","t":1.641,"v":25},{"f":595,"s":"w","t":2.423,"v":-83},{"f":595,"s":"w","t":3.147,"v":107},{"f":595,"s":"w","t":3.958,"v":-81},{"f":595,"s":"w","t":4.789,"v":49},{"f":595,"s":"w","t":5.62,"v":-27},{"f":595,"s":"w","t":6.47,"v":13},{"f":595,"s":"w","t":7.33,"v":-8},{"f":595,"s":"w","t":8.21,"v":5},{"f":595,"s":"w","t":9.04,"v":-3},{"f":595,"s":"w","t":9.725,"v":3},{"f":595,"s":"w","t":10,"v":2},
{"f":595,"s":"e","t":0,"v":0},{"f":595,"s":"e","t":0.781,"v":3.5},{"f":595,"s":"e","t":1.172,"v":16},{"f":595,"s":"e","t":1.563,"v":43},{"f":595,"s":"e","t":1.954,"v":72},{"f":595,"s":"e","t":2.345,"v":95},{"f":595,"s":"e","t":2.736,"v":109},{"f":595,"s":"e","t":3.029,"v":111},{"f":595,"s":"e","t":3.42,"v":107},{"f":595,"s":"e","t":3.909,"v":87},{"f":595,"s":"e","t":4.398,"v":66},{"f":595,"s":"e","t":4.886,"v":49},{"f":595,"s":"e","t":5.375,"v":34},{"f":595,"s":"e","t":5.864,"v":22},{"f":595,"s":"e","t":6.353,"v":15},{"f":595,"s":"e","t":7.33,"v":8},{"f":595,"s":"e","t":8.31,"v":5},{"f":595,"s":"e","t":10,"v":3.5},
{"f":595,"s":"r","t":1.319,"v":-118},{"f":595,"s":"r","t":1.563,"v":-51},{"f":595,"s":"r","t":1.856,"v":-9},{"f":595,"s":"r","t":2.15,"v":16},{"f":595,"s":"r","t":2.345,"v":28},{"f":595,"s":"r","t":2.736,"v":37},{"f":595,"s":"r","t":3.127,"v":34},{"f":595,"s":"r","t":3.518,"v":20},{"f":595,"s":"r","t":3.958,"v":0},{"f":595,"s":"r","t":4.398,"v":0},{"f":595,"s":"r","t":4.984,"v":4},{"f":595,"s":"r","t":5.571,"v":0},{"f":595,"s":"r","t":6.255,"v":-5},{"f":595,"s":"r","t":6.646,"v":-21},{"f":595,"s":"r","t":6.861,"v":-33},
{"f":595,"s":"k","t":2.345,"v":28},{"f":595,"s":"k","t":2.736,"v":37},{"f":595,"s":"k","t":3.127,"v":34},{"f":595,"s":"k","t":3.518,"v":20},{"f":595,"s":"k","t":3.958,"v":0},
{"f":595,"s":"d","t":0.977,"v":0},{"f":595,"s":"d","t":8.015,"v":0},
{"f":595,"s":"q","t":3.322,"v":113},{"f":595,"s":"c","t":3.469,"v":111},{"f":595,"s":"L","t":9.495,"v":34,"l":"595 Hz"},
{"f":750,"s":"w","t":0,"v":0},{"f":750,"s":"w","t":0.7,"v":0},{"f":750,"s":"w","t":1.319,"v":22},{"f":750,"s":"w","t":1.905,"v":-70},{"f":750,"s":"w","t":2.521,"v":101},{"f":750,"s":"w","t":3.176,"v":-82},{"f":750,"s":"w","t":3.811,"v":57},{"f":750,"s":"w","t":4.466,"v":-29},{"f":750,"s":"w","t":5.131,"v":19},{"f":750,"s":"w","t":5.766,"v":-15},{"f":750,"s":"w","t":6.402,"v":9},{"f":750,"s":"w","t":7.086,"v":-6},{"f":750,"s":"w","t":7.77,"v":5},{"f":750,"s":"w","t":8.454,"v":-2},{"f":750,"s":"w","t":9.139,"v":1},{"f":750,"s":"w","t":10,"v":0},
{"f":750,"s":"e","t":0,"v":0},{"f":750,"s":"e","t":0.684,"v":3},{"f":750,"s":"e","t":1.075,"v":18},{"f":750,"s":"e","t":1.465,"v":50},{"f":750,"s":"e","t":1.856,"v":79},{"f":750,"s":"e","t":2.247,"v":96},{"f":750,"s":"e","t":2.541,"v":102},{"f":750,"s":"e","t":2.834,"v":99},{"f":750,"s":"e","t":3.225,"v":85},{"f":750,"s":"e","t":3.714,"v":61},{"f":750,"s":"e","t":4.203,"v":41},{"f":750,"s":"e","t":4.691,"v":26},{"f":750,"s":"e","t":5.18,"v":16},{"f":750,"s":"e","t":5.864,"v":9},{"f":750,"s":"e","t":6.842,"v":5},{"f":750,"s":"e","t":10,"v":2},
{"f":750,"s":"r","t":1.026,"v":-147},{"f":750,"s":"r","t":1.221,"v":-98},{"f":750,"s":"r","t":1.465,"v":-49},{"f":750,"s":"r","t":1.71,"v":-10},{"f":750,"s":"r","t":1.905,"v":12},{"f":750,"s":"r","t":2.247,"v":27},{"f":750,"s":"r","t":2.638,"v":27},{"f":750,"s":"r","t":3.03,"v":18},{"f":750,"s":"r","t":3.421,"v":0},{"f":750,"s":"r","t":3.811,"v":-2},{"f":750,"s":"r","t":4.398,"v":-6},{"f":750,"s":"r","t":4.984,"v":-15},{"f":750,"s":"r","t":5.571,"v":-22},{"f":750,"s":"r","t":5.962,"v":-31},
{"f":750,"s":"k","t":1.905,"v":12},{"f":750,"s":"k","t":2.247,"v":27},{"f":750,"s":"k","t":2.638,"v":27},{"f":750,"s":"k","t":3.03,"v":18},{"f":750,"s":"k","t":3.421,"v":0},
{"f":750,"s":"d","t":0.782,"v":0},{"f":750,"s":"d","t":8.015,"v":0},
{"f":750,"s":"q","t":2.785,"v":102},{"f":750,"s":"c","t":2.98,"v":101},{"f":750,"s":"L","t":9.495,"v":36,"l":"750 Hz"},
{"f":945,"s":"w","t":0,"v":0},{"f":945,"s":"w","t":0.55,"v":0},{"f":945,"s":"w","t":0.996,"v":18},{"f":945,"s":"w","t":1.534,"v":-65},{"f":945,"s":"w","t":2.032,"v":99},{"f":945,"s":"w","t":2.56,"v":-94},{"f":945,"s":"w","t":3.078,"v":67},{"f":945,"s":"w","t":3.596,"v":-47},{"f":945,"s":"w","t":4.124,"v":27},{"f":945,"s":"w","t":4.662,"v":-16},{"f":945,"s":"w","t":5.18,"v":6},{"f":945,"s":"w","t":5.688,"v":-6},{"f":945,"s":"w","t":6.255,"v":4},{"f":945,"s":"w","t":6.793,"v":-2.5},{"f":945,"s":"w","t":7.32,"v":2},{"f":945,"s":"w","t":7.85,"v":-2},{"f":945,"s":"w","t":8.38,"v":1.5},{"f":945,"s":"w","t":8.91,"v":-1.5},{"f":945,"s":"w","t":9.44,"v":1.5},{"f":945,"s":"w","t":9.97,"v":-1},{"f":945,"s":"w","t":10,"v":0},
{"f":945,"s":"e","t":0,"v":0},{"f":945,"s":"e","t":0.488,"v":2},{"f":945,"s":"e","t":0.781,"v":12},{"f":945,"s":"e","t":1.172,"v":44},{"f":945,"s":"e","t":1.563,"v":76},{"f":945,"s":"e","t":1.856,"v":94},{"f":945,"s":"e","t":2.149,"v":99},{"f":945,"s":"e","t":2.443,"v":96},{"f":945,"s":"e","t":2.834,"v":82},{"f":945,"s":"e","t":3.225,"v":64},{"f":945,"s":"e","t":3.616,"v":47},{"f":945,"s":"e","t":4.007,"v":31},{"f":945,"s":"e","t":4.398,"v":19},{"f":945,"s":"e","t":4.886,"v":10},{"f":945,"s":"e","t":5.571,"v":4},{"f":945,"s":"e","t":6.353,"v":2},{"f":945,"s":"e","t":10,"v":2},
{"f":945,"s":"r","t":0.83,"v":-199},{"f":945,"s":"r","t":1.074,"v":-128},{"f":945,"s":"r","t":1.27,"v":-73},{"f":945,"s":"r","t":1.445,"v":-28},{"f":945,"s":"r","t":1.563,"v":-15},{"f":945,"s":"r","t":1.758,"v":-3},{"f":945,"s":"r","t":2.003,"v":6},{"f":945,"s":"r","t":2.345,"v":12},{"f":945,"s":"r","t":2.834,"v":2},{"f":945,"s":"r","t":3.323,"v":-10},{"f":945,"s":"r","t":3.811,"v":-27},{"f":945,"s":"r","t":4.398,"v":-49},{"f":945,"s":"r","t":5.13,"v":-73},
{"f":945,"s":"k","t":1.445,"v":-28},{"f":945,"s":"k","t":1.563,"v":-15},{"f":945,"s":"k","t":1.758,"v":-3},{"f":945,"s":"k","t":2.003,"v":6},
{"f":945,"s":"d","t":0.977,"v":0},{"f":945,"s":"d","t":5.864,"v":0},
{"f":945,"s":"q","t":2.443,"v":101},{"f":945,"s":"c","t":2.57,"v":101},{"f":945,"s":"L","t":9.495,"v":37,"l":"945 Hz"},
{"f":1191,"s":"w","t":0,"v":0},{"f":1191,"s":"w","t":0.45,"v":0},{"f":1191,"s":"w","t":0.732,"v":16},{"f":1191,"s":"w","t":1.192,"v":-58},{"f":1191,"s":"w","t":1.612,"v":91},{"f":1191,"s":"w","t":2.003,"v":-99},{"f":1191,"s":"w","t":2.394,"v":105},{"f":1191,"s":"w","t":2.834,"v":-70},{"f":1191,"s":"w","t":3.225,"v":48},{"f":1191,"s":"w","t":3.714,"v":-32},{"f":1191,"s":"w","t":4.124,"v":19},{"f":1191,"s":"w","t":4.593,"v":-13},{"f":1191,"s":"w","t":5.033,"v":6},{"f":1191,"s":"w","t":5.473,"v":-3},{"f":1191,"s":"w","t":5.89,"v":2.5},{"f":1191,"s":"w","t":6.31,"v":-2.5},{"f":1191,"s":"w","t":6.73,"v":2},{"f":1191,"s":"w","t":7.15,"v":-2},{"f":1191,"s":"w","t":7.57,"v":2},{"f":1191,"s":"w","t":7.99,"v":-2},{"f":1191,"s":"w","t":8.41,"v":2},{"f":1191,"s":"w","t":8.83,"v":-2},{"f":1191,"s":"w","t":9.25,"v":1.5},{"f":1191,"s":"w","t":9.67,"v":-1.5},{"f":1191,"s":"w","t":10,"v":0},
{"f":1191,"s":"e","t":0,"v":0},{"f":1191,"s":"e","t":0.39,"v":2},{"f":1191,"s":"e","t":0.684,"v":12},{"f":1191,"s":"e","t":0.977,"v":41},{"f":1191,"s":"e","t":1.27,"v":70},{"f":1191,"s":"e","t":1.563,"v":91},{"f":1191,"s":"e","t":1.856,"v":101},{"f":1191,"s":"e","t":2.149,"v":99},{"f":1191,"s":"e","t":2.443,"v":91},{"f":1191,"s":"e","t":2.834,"v":70},{"f":1191,"s":"e","t":3.225,"v":50},{"f":1191,"s":"e","t":3.616,"v":32},{"f":1191,"s":"e","t":4.007,"v":19},{"f":1191,"s":"e","t":4.496,"v":9},{"f":1191,"s":"e","t":5.082,"v":3.5},{"f":1191,"s":"e","t":10,"v":2},
{"f":1191,"s":"r","t":0.635,"v":-311},{"f":1191,"s":"r","t":0.781,"v":-220},{"f":1191,"s":"r","t":1.026,"v":-110},{"f":1191,"s":"r","t":1.123,"v":-67},{"f":1191,"s":"r","t":1.27,"v":-40},{"f":1191,"s":"r","t":1.465,"v":-6},{"f":1191,"s":"r","t":1.514,"v":2},{"f":1191,"s":"r","t":1.758,"v":30},{"f":1191,"s":"r","t":2.052,"v":43},{"f":1191,"s":"r","t":2.443,"v":24},{"f":1191,"s":"r","t":2.834,"v":-6},{"f":1191,"s":"r","t":3.323,"v":-43},{"f":1191,"s":"r","t":3.811,"v":-76},{"f":1191,"s":"r","t":4.203,"v":-104},{"f":1191,"s":"r","t":4.691,"v":-132},
{"f":1191,"s":"k","t":1.123,"v":-67},{"f":1191,"s":"k","t":1.27,"v":-40},{"f":1191,"s":"k","t":1.465,"v":-6},{"f":1191,"s":"k","t":1.514,"v":2},
{"f":1191,"s":"d","t":0.488,"v":0},{"f":1191,"s":"d","t":5.082,"v":0},
{"f":1191,"s":"q","t":2.149,"v":99},{"f":1191,"s":"c","t":2.267,"v":99},{"f":1191,"s":"L","t":9.495,"v":35,"l":"1191 Hz"},
{"f":1500,"s":"w","t":0,"v":0},{"f":1500,"s":"w","t":0.3,"v":0},{"f":1500,"s":"w","t":0.566,"v":17.5},{"f":1500,"s":"w","t":0.928,"v":-65},{"f":1500,"s":"w","t":1.25,"v":94},{"f":1500,"s":"w","t":1.563,"v":-100},{"f":1500,"s":"w","t":1.876,"v":89},{"f":1500,"s":"w","t":2.218,"v":-64},{"f":1500,"s":"w","t":2.56,"v":41},{"f":1500,"s":"w","t":2.883,"v":-27},{"f":1500,"s":"w","t":3.225,"v":13},{"f":1500,"s":"w","t":3.567,"v":-11},{"f":1500,"s":"w","t":3.89,"v":3.5},{"f":1500,"s":"w","t":4.251,"v":-6},{"f":1500,"s":"w","t":4.593,"v":2},{"f":1500,"s":"w","t":4.93,"v":-2.5},{"f":1500,"s":"w","t":5.26,"v":2},{"f":1500,"s":"w","t":5.59,"v":-2},{"f":1500,"s":"w","t":5.93,"v":2},{"f":1500,"s":"w","t":6.26,"v":-2},{"f":1500,"s":"w","t":6.59,"v":2},{"f":1500,"s":"w","t":6.93,"v":-1.5},{"f":1500,"s":"w","t":7.26,"v":1.5},{"f":1500,"s":"w","t":7.59,"v":-1.5},{"f":1500,"s":"w","t":7.93,"v":1.5},{"f":1500,"s":"w","t":8.26,"v":-1.5},{"f":1500,"s":"w","t":8.59,"v":1.5},{"f":1500,"s":"w","t":8.93,"v":-1.5},{"f":1500,"s":"w","t":9.26,"v":1},{"f":1500,"s":"w","t":9.59,"v":-1},{"f":1500,"s":"w","t":9.93,"v":1},{"f":1500,"s":"w","t":10,"v":0},
{"f":1500,"s":"e","t":0,"v":0},{"f":1500,"s":"e","t":0.244,"v":1},{"f":1500,"s":"e","t":0.488,"v":10.5},{"f":1500,"s":"e","t":0.732,"v":37},{"f":1500,"s":"e","t":0.977,"v":66},{"f":1500,"s":"e","t":1.221,"v":87},{"f":1500,"s":"e","t":1.465,"v":97},{"f":1500,"s":"e","t":1.661,"v":98},{"f":1500,"s":"e","t":1.905,"v":89},{"f":1500,"s":"e","t":2.149,"v":69},{"f":1500,"s":"e","t":2.443,"v":44},{"f":1500,"s":"e","t":2.736,"v":28},{"f":1500,"s":"e","t":3.03,"v":16},{"f":1500,"s":"e","t":3.421,"v":8},{"f":1500,"s":"e","t":3.909,"v":3},{"f":1500,"s":"e","t":10,"v":2},
{"f":1500,"s":"r","t":0.439,"v":-466},{"f":1500,"s":"r","t":0.586,"v":-308},{"f":1500,"s":"r","t":0.732,"v":-198},{"f":1500,"s":"r","t":0.879,"v":-131},{"f":1500,"s":"r","t":1.026,"v":-76},{"f":1500,"s":"r","t":1.221,"v":-27},{"f":1500,"s":"r","t":1.368,"v":0},{"f":1500,"s":"r","t":1.563,"v":24},{"f":1500,"s":"r","t":1.758,"v":34},{"f":1500,"s":"r","t":2.052,"v":22},{"f":1500,"s":"r","t":2.443,"v":-15},{"f":1500,"s":"r","t":2.834,"v":-51},{"f":1500,"s":"r","t":3.225,"v":-66},{"f":1500,"s":"r","t":3.518,"v":-49},
{"f":1500,"s":"k","t":0.879,"v":-131},{"f":1500,"s":"k","t":1.026,"v":-76},{"f":1500,"s":"k","t":1.221,"v":-27},{"f":1500,"s":"k","t":1.368,"v":0},
{"f":1500,"s":"d","t":0.488,"v":0},{"f":1500,"s":"d","t":5.962,"v":0},
{"f":1500,"s":"q","t":1.612,"v":99},{"f":1500,"s":"c","t":1.778,"v":98},{"f":1500,"s":"L","t":9.495,"v":35,"l":"1500 Hz"},
{"f":1500,"s":"b","t":10,"v":-51,"v2":-151},{"f":1500,"s":"bc","t":10,"v":-51},{"f":1500,"s":"bc","t":10,"v":-151},{"f":1500,"s":"bl","t":9.68,"v":-106,"l":"100Hz"},
{"f":6000,"s":"w","t":0,"v":0},{"f":6000,"s":"w","t":0.09,"v":0},{"f":6000,"s":"w","t":0.154,"v":7},{"f":6000,"s":"w","t":0.216,"v":-20},{"f":6000,"s":"w","t":0.302,"v":35},{"f":6000,"s":"w","t":0.376,"v":-41},{"f":6000,"s":"w","t":0.474,"v":73},{"f":6000,"s":"w","t":0.56,"v":-75},{"f":6000,"s":"w","t":0.646,"v":96},{"f":6000,"s":"w","t":0.737,"v":-85},{"f":6000,"s":"w","t":0.813,"v":99},{"f":6000,"s":"w","t":0.899,"v":-88},{"f":6000,"s":"w","t":0.977,"v":71},{"f":6000,"s":"w","t":1.063,"v":-61},{"f":6000,"s":"w","t":1.137,"v":44},{"f":6000,"s":"w","t":1.223,"v":-29},{"f":6000,"s":"w","t":1.301,"v":23},{"f":6000,"s":"w","t":1.382,"v":-15},{"f":6000,"s":"w","t":1.468,"v":12},{"f":6000,"s":"w","t":1.554,"v":-9},{"f":6000,"s":"w","t":1.635,"v":9},{"f":6000,"s":"w","t":1.721,"v":-6},{"f":6000,"s":"w","t":1.8,"v":4},{"f":6000,"s":"w","t":1.89,"v":-4},{"f":6000,"s":"w","t":1.97,"v":3.5},{"f":6000,"s":"w","t":2.05,"v":-3.5},{"f":6000,"s":"w","t":2.14,"v":3},{"f":6000,"s":"w","t":2.22,"v":-3},{"f":6000,"s":"w","t":2.3,"v":3},{"f":6000,"s":"w","t":2.39,"v":-3},{"f":6000,"s":"w","t":2.47,"v":3},{"f":6000,"s":"w","t":2.5,"v":2},
{"f":6000,"s":"e","t":0,"v":0},{"f":6000,"s":"e","t":0.069,"v":2},{"f":6000,"s":"e","t":0.167,"v":12},{"f":6000,"s":"e","t":0.265,"v":35},{"f":6000,"s":"e","t":0.363,"v":60},{"f":6000,"s":"e","t":0.461,"v":79},{"f":6000,"s":"e","t":0.56,"v":94},{"f":6000,"s":"e","t":0.658,"v":99},{"f":6000,"s":"e","t":0.756,"v":99},{"f":6000,"s":"e","t":0.854,"v":94},{"f":6000,"s":"e","t":0.953,"v":77},{"f":6000,"s":"e","t":1.051,"v":58},{"f":6000,"s":"e","t":1.149,"v":41},{"f":6000,"s":"e","t":1.247,"v":26},{"f":6000,"s":"e","t":1.346,"v":16},{"f":6000,"s":"e","t":1.444,"v":9},{"f":6000,"s":"e","t":1.567,"v":5},{"f":6000,"s":"e","t":1.812,"v":2},{"f":6000,"s":"e","t":2.5,"v":2},
{"f":6000,"s":"r","t":0.154,"v":-1318},{"f":6000,"s":"r","t":0.191,"v":-976},{"f":6000,"s":"r","t":0.253,"v":-610},{"f":6000,"s":"r","t":0.339,"v":-366},{"f":6000,"s":"r","t":0.461,"v":-183},{"f":6000,"s":"r","t":0.584,"v":-98},{"f":6000,"s":"r","t":0.695,"v":-24},{"f":6000,"s":"r","t":0.805,"v":61},{"f":6000,"s":"r","t":0.953,"v":122},{"f":6000,"s":"r","t":1.124,"v":122},{"f":6000,"s":"r","t":1.321,"v":61},{"f":6000,"s":"r","t":1.518,"v":0},{"f":6000,"s":"r","t":1.665,"v":-24},
{"f":6000,"s":"k","t":0.191,"v":-976},{"f":6000,"s":"k","t":0.253,"v":-610},{"f":6000,"s":"k","t":0.339,"v":-366},{"f":6000,"s":"k","t":0.461,"v":-183},{"f":6000,"s":"k","t":0.584,"v":-98},{"f":6000,"s":"k","t":0.695,"v":-24},
{"f":6000,"s":"d","t":0.044,"v":0},{"f":6000,"s":"d","t":1.763,"v":0},
{"f":6000,"s":"q","t":0.737,"v":99},{"f":6000,"s":"c","t":0.8,"v":99},{"f":6000,"s":"L","t":1.67,"v":36,"l":"6000 Hz"},
{"f":7560,"s":"w","t":0,"v":0},{"f":7560,"s":"w","t":0.08,"v":0},{"f":7560,"s":"w","t":0.105,"v":5},{"f":7560,"s":"w","t":0.167,"v":-16},{"f":7560,"s":"w","t":0.236,"v":30},{"f":7560,"s":"w","t":0.302,"v":-43},{"f":7560,"s":"w","t":0.376,"v":60},{"f":7560,"s":"w","t":0.449,"v":-84},{"f":7560,"s":"w","t":0.511,"v":89},{"f":7560,"s":"w","t":0.584,"v":-95},{"f":7560,"s":"w","t":0.646,"v":104},{"f":7560,"s":"w","t":0.719,"v":-84},{"f":7560,"s":"w","t":0.786,"v":95},{"f":7560,"s":"w","t":0.854,"v":-69},{"f":7560,"s":"w","t":0.916,"v":60},{"f":7560,"s":"w","t":0.977,"v":-46},{"f":7560,"s":"w","t":1.051,"v":36},{"f":7560,"s":"w","t":1.112,"v":-31},{"f":7560,"s":"w","t":1.179,"v":19},{"f":7560,"s":"w","t":1.247,"v":-16},{"f":7560,"s":"w","t":1.316,"v":10},{"f":7560,"s":"w","t":1.382,"v":-10},{"f":7560,"s":"w","t":1.449,"v":4},{"f":7560,"s":"w","t":1.515,"v":-4},{"f":7560,"s":"w","t":1.58,"v":3.5},{"f":7560,"s":"w","t":1.65,"v":-3.5},{"f":7560,"s":"w","t":1.71,"v":3.5},{"f":7560,"s":"w","t":1.78,"v":-3},{"f":7560,"s":"w","t":1.85,"v":3},{"f":7560,"s":"w","t":1.91,"v":-3},{"f":7560,"s":"w","t":1.98,"v":3},{"f":7560,"s":"w","t":2.04,"v":-3},{"f":7560,"s":"w","t":2.11,"v":3},{"f":7560,"s":"w","t":2.18,"v":-3},{"f":7560,"s":"w","t":2.24,"v":3},{"f":7560,"s":"w","t":2.31,"v":-3},{"f":7560,"s":"w","t":2.37,"v":3},{"f":7560,"s":"w","t":2.44,"v":-3},{"f":7560,"s":"w","t":2.5,"v":1},
{"f":7560,"s":"e","t":0,"v":0},{"f":7560,"s":"e","t":0.056,"v":1},{"f":7560,"s":"e","t":0.118,"v":10},{"f":7560,"s":"e","t":0.191,"v":30},{"f":7560,"s":"e","t":0.277,"v":54},{"f":7560,"s":"e","t":0.363,"v":74},{"f":7560,"s":"e","t":0.461,"v":89},{"f":7560,"s":"e","t":0.56,"v":100},{"f":7560,"s":"e","t":0.633,"v":103},{"f":7560,"s":"e","t":0.707,"v":98},{"f":7560,"s":"e","t":0.781,"v":83},{"f":7560,"s":"e","t":0.854,"v":65},{"f":7560,"s":"e","t":0.928,"v":48},{"f":7560,"s":"e","t":1.002,"v":33},{"f":7560,"s":"e","t":1.075,"v":22},{"f":7560,"s":"e","t":1.174,"v":11},{"f":7560,"s":"e","t":1.321,"v":4},{"f":7560,"s":"e","t":1.567,"v":2},{"f":7560,"s":"e","t":2.5,"v":2},
{"f":7560,"s":"r","t":0.118,"v":-1745},{"f":7560,"s":"r","t":0.13,"v":-1500},{"f":7560,"s":"r","t":0.216,"v":-866},{"f":7560,"s":"r","t":0.314,"v":-525},{"f":7560,"s":"r","t":0.412,"v":-281},{"f":7560,"s":"r","t":0.535,"v":-98},{"f":7560,"s":"r","t":0.658,"v":85},{"f":7560,"s":"r","t":0.781,"v":207},{"f":7560,"s":"r","t":0.928,"v":232},{"f":7560,"s":"r","t":1.075,"v":207},{"f":7560,"s":"r","t":1.223,"v":110},{"f":7560,"s":"r","t":1.37,"v":12},
{"f":7560,"s":"k","t":0.13,"v":-1500},{"f":7560,"s":"k","t":0.216,"v":-866},{"f":7560,"s":"k","t":0.314,"v":-525},{"f":7560,"s":"k","t":0.412,"v":-281},{"f":7560,"s":"k","t":0.535,"v":-98},{"f":7560,"s":"k","t":0.658,"v":85},
{"f":7560,"s":"d","t":0.093,"v":0},{"f":7560,"s":"d","t":1.223,"v":0},
{"f":7560,"s":"q","t":0.633,"v":99},{"f":7560,"s":"c","t":0.695,"v":98},{"f":7560,"s":"L","t":1.67,"v":36,"l":"7560 Hz"},
{"f":9524,"s":"w","t":0,"v":0},{"f":9524,"s":"w","t":0.06,"v":0},{"f":9524,"s":"w","t":0.081,"v":5},{"f":9524,"s":"w","t":0.142,"v":-16},{"f":9524,"s":"w","t":0.199,"v":28},{"f":9524,"s":"w","t":0.253,"v":-48},{"f":9524,"s":"w","t":0.309,"v":66},{"f":9524,"s":"w","t":0.363,"v":-83},{"f":9524,"s":"w","t":0.417,"v":89},{"f":9524,"s":"w","t":0.474,"v":-98},{"f":9524,"s":"w","t":0.523,"v":98},{"f":9524,"s":"w","t":0.579,"v":-98},{"f":9524,"s":"w","t":0.633,"v":87},{"f":9524,"s":"w","t":0.687,"v":-77},{"f":9524,"s":"w","t":0.739,"v":60},{"f":9524,"s":"w","t":0.793,"v":-51},{"f":9524,"s":"w","t":0.842,"v":38},{"f":9524,"s":"w","t":0.899,"v":-29},{"f":9524,"s":"w","t":0.948,"v":24},{"f":9524,"s":"w","t":1.002,"v":-19},{"f":9524,"s":"w","t":1.051,"v":13},{"f":9524,"s":"w","t":1.105,"v":-10},{"f":9524,"s":"w","t":1.157,"v":6},{"f":9524,"s":"w","t":1.21,"v":-4},{"f":9524,"s":"w","t":1.26,"v":3.5},{"f":9524,"s":"w","t":1.31,"v":-3.5},{"f":9524,"s":"w","t":1.37,"v":3},{"f":9524,"s":"w","t":1.42,"v":-3},{"f":9524,"s":"w","t":1.47,"v":3},{"f":9524,"s":"w","t":1.52,"v":-3},{"f":9524,"s":"w","t":1.58,"v":3},{"f":9524,"s":"w","t":1.63,"v":-3},{"f":9524,"s":"w","t":1.68,"v":3},{"f":9524,"s":"w","t":1.73,"v":-3},{"f":9524,"s":"w","t":1.79,"v":3},{"f":9524,"s":"w","t":1.84,"v":-3},{"f":9524,"s":"w","t":1.89,"v":3},{"f":9524,"s":"w","t":1.94,"v":-3},{"f":9524,"s":"w","t":2.0,"v":3},{"f":9524,"s":"w","t":2.05,"v":-3},{"f":9524,"s":"w","t":2.1,"v":3},{"f":9524,"s":"w","t":2.15,"v":-3},{"f":9524,"s":"w","t":2.21,"v":3},{"f":9524,"s":"w","t":2.26,"v":-3},{"f":9524,"s":"w","t":2.31,"v":3},{"f":9524,"s":"w","t":2.37,"v":-3},{"f":9524,"s":"w","t":2.42,"v":3},{"f":9524,"s":"w","t":2.47,"v":-3},{"f":9524,"s":"w","t":2.5,"v":0},
{"f":9524,"s":"e","t":0,"v":0},{"f":9524,"s":"e","t":0.044,"v":2},{"f":9524,"s":"e","t":0.093,"v":11},{"f":9524,"s":"e","t":0.154,"v":31},{"f":9524,"s":"e","t":0.216,"v":57},{"f":9524,"s":"e","t":0.29,"v":78},{"f":9524,"s":"e","t":0.375,"v":92},{"f":9524,"s":"e","t":0.461,"v":98},{"f":9524,"s":"e","t":0.535,"v":100},{"f":9524,"s":"e","t":0.609,"v":94},{"f":9524,"s":"e","t":0.683,"v":78},{"f":9524,"s":"e","t":0.756,"v":57},{"f":9524,"s":"e","t":0.83,"v":38},{"f":9524,"s":"e","t":0.903,"v":24},{"f":9524,"s":"e","t":0.977,"v":13},{"f":9524,"s":"e","t":1.075,"v":6},{"f":9524,"s":"e","t":1.223,"v":2},{"f":9524,"s":"e","t":2.5,"v":2},
{"f":9524,"s":"r","t":0.118,"v":-1854},{"f":9524,"s":"r","t":0.137,"v":-1549},{"f":9524,"s":"r","t":0.179,"v":-939},{"f":9524,"s":"r","t":0.24,"v":-573},{"f":9524,"s":"r","t":0.339,"v":-329},{"f":9524,"s":"r","t":0.461,"v":-146},{"f":9524,"s":"r","t":0.572,"v":61},{"f":9524,"s":"r","t":0.683,"v":220},{"f":9524,"s":"r","t":0.805,"v":342},{"f":9524,"s":"r","t":0.903,"v":403},{"f":9524,"s":"r","t":1.002,"v":342},{"f":9524,"s":"r","t":1.075,"v":159},
{"f":9524,"s":"k","t":0.137,"v":-1549},{"f":9524,"s":"k","t":0.179,"v":-939},{"f":9524,"s":"k","t":0.24,"v":-573},{"f":9524,"s":"k","t":0.339,"v":-329},{"f":9524,"s":"k","t":0.461,"v":-146},{"f":9524,"s":"k","t":0.572,"v":61},
{"f":9524,"s":"d","t":0.044,"v":0},{"f":9524,"s":"d","t":1.124,"v":0},
{"f":9524,"s":"q","t":0.516,"v":96},{"f":9524,"s":"c","t":0.579,"v":98},{"f":9524,"s":"L","t":1.67,"v":36,"l":"9524 Hz"},
{"f":12000,"s":"w","t":0,"v":0},{"f":12000,"s":"w","t":0.035,"v":0},{"f":12000,"s":"w","t":0.049,"v":3},{"f":12000,"s":"w","t":0.105,"v":-20},{"f":12000,"s":"w","t":0.162,"v":20},{"f":12000,"s":"w","t":0.204,"v":-41},{"f":12000,"s":"w","t":0.253,"v":47},{"f":12000,"s":"w","t":0.302,"v":-82},{"f":12000,"s":"w","t":0.346,"v":73},{"f":12000,"s":"w","t":0.393,"v":-96},{"f":12000,"s":"w","t":0.437,"v":91},{"f":12000,"s":"w","t":0.481,"v":-99},{"f":12000,"s":"w","t":0.53,"v":92},{"f":12000,"s":"w","t":0.572,"v":-91},{"f":12000,"s":"w","t":0.616,"v":85},{"f":12000,"s":"w","t":0.663,"v":-73},{"f":12000,"s":"w","t":0.707,"v":64},{"f":12000,"s":"w","t":0.756,"v":-53},{"f":12000,"s":"w","t":0.8,"v":47},{"f":12000,"s":"w","t":0.847,"v":-38},{"f":12000,"s":"w","t":0.891,"v":29},{"f":12000,"s":"w","t":0.94,"v":-23},{"f":12000,"s":"w","t":0.982,"v":18},{"f":12000,"s":"w","t":1.026,"v":-15},{"f":12000,"s":"w","t":1.075,"v":10},{"f":12000,"s":"w","t":1.12,"v":-9},{"f":12000,"s":"w","t":1.16,"v":5},{"f":12000,"s":"w","t":1.2,"v":-5},{"f":12000,"s":"w","t":1.245,"v":4.5},{"f":12000,"s":"w","t":1.29,"v":-4.5},{"f":12000,"s":"w","t":1.33,"v":4},{"f":12000,"s":"w","t":1.37,"v":-4},{"f":12000,"s":"w","t":1.41,"v":4},{"f":12000,"s":"w","t":1.45,"v":-4},{"f":12000,"s":"w","t":1.495,"v":4},{"f":12000,"s":"w","t":1.54,"v":-4},{"f":12000,"s":"w","t":1.58,"v":3.5},{"f":12000,"s":"w","t":1.62,"v":-3.5},{"f":12000,"s":"w","t":1.66,"v":3.5},{"f":12000,"s":"w","t":1.7,"v":-3.5},{"f":12000,"s":"w","t":1.745,"v":3.5},{"f":12000,"s":"w","t":1.79,"v":-3.5},{"f":12000,"s":"w","t":1.83,"v":3.5},{"f":12000,"s":"w","t":1.87,"v":-3.5},{"f":12000,"s":"w","t":1.91,"v":3.5},{"f":12000,"s":"w","t":1.95,"v":-3.5},{"f":12000,"s":"w","t":1.995,"v":3},{"f":12000,"s":"w","t":2.04,"v":-3},{"f":12000,"s":"w","t":2.08,"v":3},{"f":12000,"s":"w","t":2.12,"v":-3},{"f":12000,"s":"w","t":2.16,"v":3},{"f":12000,"s":"w","t":2.2,"v":-3},{"f":12000,"s":"w","t":2.245,"v":3},{"f":12000,"s":"w","t":2.29,"v":-3},{"f":12000,"s":"w","t":2.33,"v":3},{"f":12000,"s":"w","t":2.37,"v":-3},{"f":12000,"s":"w","t":2.41,"v":3},{"f":12000,"s":"w","t":2.45,"v":-3},{"f":12000,"s":"w","t":2.5,"v":0},
{"f":12000,"s":"e","t":0,"v":0},{"f":12000,"s":"e","t":0.044,"v":2},{"f":12000,"s":"e","t":0.093,"v":15},{"f":12000,"s":"e","t":0.154,"v":41},{"f":12000,"s":"e","t":0.216,"v":64},{"f":12000,"s":"e","t":0.277,"v":83},{"f":12000,"s":"e","t":0.339,"v":94},{"f":12000,"s":"e","t":0.4,"v":98},{"f":12000,"s":"e","t":0.461,"v":96},{"f":12000,"s":"e","t":0.523,"v":88},{"f":12000,"s":"e","t":0.584,"v":73},{"f":12000,"s":"e","t":0.658,"v":53},{"f":12000,"s":"e","t":0.732,"v":35},{"f":12000,"s":"e","t":0.805,"v":20},{"f":12000,"s":"e","t":0.879,"v":11},{"f":12000,"s":"e","t":0.977,"v":4},{"f":12000,"s":"e","t":1.124,"v":2},{"f":12000,"s":"e","t":2.5,"v":2},
{"f":12000,"s":"r","t":0.086,"v":-2440},{"f":12000,"s":"r","t":0.093,"v":-2074},{"f":12000,"s":"r","t":0.154,"v":-1342},{"f":12000,"s":"r","t":0.216,"v":-854},{"f":12000,"s":"r","t":0.339,"v":-366},{"f":12000,"s":"r","t":0.437,"v":-122},{"f":12000,"s":"r","t":0.498,"v":24},{"f":12000,"s":"r","t":0.584,"v":183},{"f":12000,"s":"r","t":0.707,"v":366},{"f":12000,"s":"r","t":0.805,"v":305},{"f":12000,"s":"r","t":0.879,"v":183},{"f":12000,"s":"r","t":0.953,"v":0},
{"f":12000,"s":"k","t":0.093,"v":-2074},{"f":12000,"s":"k","t":0.154,"v":-1342},{"f":12000,"s":"k","t":0.216,"v":-854},{"f":12000,"s":"k","t":0.339,"v":-366},{"f":12000,"s":"k","t":0.437,"v":-122},{"f":12000,"s":"k","t":0.498,"v":24},
{"f":12000,"s":"d","t":0.044,"v":0},{"f":12000,"s":"d","t":1.075,"v":0},
{"f":12000,"s":"q","t":0.417,"v":98},{"f":12000,"s":"c","t":0.481,"v":98},{"f":12000,"s":"L","t":1.67,"v":36,"l":"12000 Hz"},
{"f":15119,"s":"w","t":0,"v":0},{"f":15119,"s":"w","t":0.03,"v":0},{"f":15119,"s":"w","t":0.044,"v":3},{"f":15119,"s":"w","t":0.093,"v":-20},{"f":15119,"s":"w","t":0.137,"v":28},{"f":15119,"s":"w","t":0.179,"v":-45},{"f":15119,"s":"w","t":0.216,"v":57},{"f":15119,"s":"w","t":0.26,"v":-77},{"f":15119,"s":"w","t":0.297,"v":81},{"f":15119,"s":"w","t":0.339,"v":-92},{"f":15119,"s":"w","t":0.375,"v":89},{"f":15119,"s":"w","t":0.412,"v":-95},{"f":15119,"s":"w","t":0.449,"v":87},{"f":15119,"s":"w","t":0.491,"v":-83},{"f":15119,"s":"w","t":0.53,"v":72},{"f":15119,"s":"w","t":0.567,"v":-65},{"f":15119,"s":"w","t":0.609,"v":51},{"f":15119,"s":"w","t":0.646,"v":-48},{"f":15119,"s":"w","t":0.683,"v":37},{"f":15119,"s":"w","t":0.719,"v":-30},{"f":15119,"s":"w","t":0.761,"v":22},{"f":15119,"s":"w","t":0.8,"v":-22},{"f":15119,"s":"w","t":0.835,"v":13},{"f":15119,"s":"w","t":0.874,"v":-13},{"f":15119,"s":"w","t":0.911,"v":8},{"f":15119,"s":"w","t":0.953,"v":-8},{"f":15119,"s":"w","t":0.986,"v":5},{"f":15119,"s":"w","t":1.019,"v":-5},{"f":15119,"s":"w","t":1.052,"v":4.5},{"f":15119,"s":"w","t":1.085,"v":-4.5},{"f":15119,"s":"w","t":1.118,"v":4},{"f":15119,"s":"w","t":1.151,"v":-4},{"f":15119,"s":"w","t":1.184,"v":4},{"f":15119,"s":"w","t":1.217,"v":-4},{"f":15119,"s":"w","t":1.25,"v":4},{"f":15119,"s":"w","t":1.283,"v":-4},{"f":15119,"s":"w","t":1.316,"v":3.5},{"f":15119,"s":"w","t":1.349,"v":-3.5},{"f":15119,"s":"w","t":1.382,"v":3.5},{"f":15119,"s":"w","t":1.415,"v":-3.5},{"f":15119,"s":"w","t":1.448,"v":3.5},{"f":15119,"s":"w","t":1.481,"v":-3.5},{"f":15119,"s":"w","t":1.514,"v":3.5},{"f":15119,"s":"w","t":1.547,"v":-3.5},{"f":15119,"s":"w","t":1.58,"v":3.5},{"f":15119,"s":"w","t":1.613,"v":-3.5},{"f":15119,"s":"w","t":1.646,"v":3.5},{"f":15119,"s":"w","t":1.679,"v":-3.5},{"f":15119,"s":"w","t":1.712,"v":3},{"f":15119,"s":"w","t":1.745,"v":-3},{"f":15119,"s":"w","t":1.778,"v":3},{"f":15119,"s":"w","t":1.811,"v":-3},{"f":15119,"s":"w","t":1.844,"v":3},{"f":15119,"s":"w","t":1.877,"v":-3},{"f":15119,"s":"w","t":1.91,"v":3},{"f":15119,"s":"w","t":1.943,"v":-3},{"f":15119,"s":"w","t":1.976,"v":3},{"f":15119,"s":"w","t":2.009,"v":-3},{"f":15119,"s":"w","t":2.042,"v":3},{"f":15119,"s":"w","t":2.075,"v":-3},{"f":15119,"s":"w","t":2.108,"v":3},{"f":15119,"s":"w","t":2.141,"v":-3},{"f":15119,"s":"w","t":2.174,"v":3},{"f":15119,"s":"w","t":2.207,"v":-3},{"f":15119,"s":"w","t":2.24,"v":3},{"f":15119,"s":"w","t":2.273,"v":-3},{"f":15119,"s":"w","t":2.306,"v":3},{"f":15119,"s":"w","t":2.339,"v":-3},{"f":15119,"s":"w","t":2.372,"v":3},{"f":15119,"s":"w","t":2.405,"v":-3},{"f":15119,"s":"w","t":2.438,"v":3},{"f":15119,"s":"w","t":2.471,"v":-3},{"f":15119,"s":"w","t":2.5,"v":0},
{"f":15119,"s":"e","t":0,"v":0},{"f":15119,"s":"e","t":0.032,"v":2},{"f":15119,"s":"e","t":0.069,"v":11},{"f":15119,"s":"e","t":0.118,"v":34},{"f":15119,"s":"e","t":0.179,"v":63},{"f":15119,"s":"e","t":0.24,"v":84},{"f":15119,"s":"e","t":0.302,"v":95},{"f":15119,"s":"e","t":0.351,"v":98},{"f":15119,"s":"e","t":0.4,"v":94},{"f":15119,"s":"e","t":0.461,"v":81},{"f":15119,"s":"e","t":0.523,"v":60},{"f":15119,"s":"e","t":0.584,"v":40},{"f":15119,"s":"e","t":0.646,"v":25},{"f":15119,"s":"e","t":0.707,"v":15},{"f":15119,"s":"e","t":0.781,"v":8},{"f":15119,"s":"e","t":0.879,"v":3.5},{"f":15119,"s":"e","t":1.075,"v":2},{"f":15119,"s":"e","t":2.5,"v":2},
{"f":15119,"s":"r","t":0.073,"v":-3623},{"f":15119,"s":"r","t":0.081,"v":-2220},{"f":15119,"s":"r","t":0.118,"v":-1488},{"f":15119,"s":"r","t":0.167,"v":-1000},{"f":15119,"s":"r","t":0.24,"v":-634},{"f":15119,"s":"r","t":0.339,"v":-207},{"f":15119,"s":"r","t":0.375,"v":-24},{"f":15119,"s":"r","t":0.449,"v":195},{"f":15119,"s":"r","t":0.547,"v":366},{"f":15119,"s":"r","t":0.658,"v":244},{"f":15119,"s":"r","t":0.756,"v":98},{"f":15119,"s":"r","t":0.793,"v":0},
{"f":15119,"s":"k","t":0.081,"v":-2220},{"f":15119,"s":"k","t":0.118,"v":-1488},{"f":15119,"s":"k","t":0.167,"v":-1000},{"f":15119,"s":"k","t":0.24,"v":-634},{"f":15119,"s":"k","t":0.339,"v":-207},{"f":15119,"s":"k","t":0.375,"v":-24},
{"f":15119,"s":"d","t":0.02,"v":0},{"f":15119,"s":"d","t":0.781,"v":0},
{"f":15119,"s":"q","t":0.326,"v":97},{"f":15119,"s":"c","t":0.407,"v":97},{"f":15119,"s":"L","t":1.67,"v":36,"l":"15119 Hz"},
{"f":15119,"s":"b","t":2.52,"v":-329,"v2":-1829},{"f":15119,"s":"bc","t":2.52,"v":-329},{"f":15119,"s":"bc","t":2.52,"v":-1829},{"f":15119,"s":"bl","t":2.41,"v":-1120,"l":"1500Hz"}
]},
"data":{"name":"d"},
"columns":2,"spacing":{"row":0,"column":40},"bounds":"flush",
"concat":[
{"transform":[{"filter":"datum.f==187"}],"width":341,"height":122.2,"encoding":{"x":{"field":"t","type":"quantitative","scale":{"domain":[0,20]},"axis":null}},"layer":[{"encoding":{"y":{"field":"v","type":"quantitative","scale":{"domain":[-123.3,91.05]},"axis":null}},"layer":[{"transform":[{"filter":"datum.s=='e'"}],"mark":{"type":"line","color":"#40e6f0","strokeWidth":5,"interpolate":"monotone"}},{"transform":[{"filter":"datum.s=='w'"}],"mark":{"type":"line","color":"#000","strokeWidth":1.8,"interpolate":"monotone"}},{"transform":[{"filter":"datum.s=='q'"}],"mark":{"type":"point","shape":"square","size":115,"filled":false,"color":"#000","strokeWidth":1.5,"opacity":1}},{"transform":[{"filter":"datum.s=='c'"}],"mark":{"type":"point","shape":"circle","size":135,"filled":false,"color":"#000","strokeWidth":1.5,"opacity":1}},{"transform":[{"filter":"datum.s=='L'"}],"mark":{"type":"text","fontSize":22,"align":"right","baseline":"middle","color":"#000"},"encoding":{"text":{"field":"l"}}}]},{"encoding":{"y":{"field":"v","type":"quantitative","scale":{"domain":[-103.4,76.3]},"axis":null}},"layer":[{"transform":[{"filter":"datum.s=='d'"}],"mark":{"type":"line","color":"#f00","strokeWidth":1.7,"strokeDash":[8,5]}},{"transform":[{"filter":"datum.s=='r'"}],"mark":{"type":"line","color":"#f00","strokeWidth":1.6,"interpolate":"monotone"}},{"transform":[{"filter":"datum.s=='k'"}],"mark":{"type":"line","color":"#f00","strokeWidth":6,"strokeCap":"round","interpolate":"monotone"}}]}],"resolve":{"scale":{"y":"independent"}}},
{"transform":[{"filter":"datum.f==1890"}],"width":340,"height":122.2,"encoding":{"x":{"field":"t","type":"quantitative","scale":{"domain":[0,5]},"axis":null}},"layer":[{"encoding":{"y":{"field":"v","type":"quantitative","scale":{"domain":[-123.3,91.05]},"axis":null}},"layer":[{"transform":[{"filter":"datum.s=='e'"}],"mark":{"type":"line","color":"#40e6f0","strokeWidth":5,"interpolate":"monotone"}},{"transform":[{"filter":"datum.s=='w'"}],"mark":{"type":"line","color":"#000","strokeWidth":1.8,"interpolate":"monotone"}},{"transform":[{"filter":"datum.s=='q'"}],"mark":{"type":"point","shape":"square","size":115,"filled":false,"color":"#000","strokeWidth":1.5,"opacity":1}},{"transform":[{"filter":"datum.s=='c'"}],"mark":{"type":"point","shape":"circle","size":135,"filled":false,"color":"#000","strokeWidth":1.5,"opacity":1}},{"transform":[{"filter":"datum.s=='L'"}],"mark":{"type":"text","fontSize":22,"align":"left","baseline":"middle","color":"#000"},"encoding":{"text":{"field":"l"}}}]},{"encoding":{"y":{"field":"v","type":"quantitative","scale":{"domain":[-781.1,576.7]},"axis":null}},"layer":[{"transform":[{"filter":"datum.s=='d'"}],"mark":{"type":"line","color":"#f00","strokeWidth":1.7,"strokeDash":[8,5]}},{"transform":[{"filter":"datum.s=='r'"}],"mark":{"type":"line","color":"#f00","strokeWidth":1.6,"interpolate":"monotone"}},{"transform":[{"filter":"datum.s=='k'"}],"mark":{"type":"line","color":"#f00","strokeWidth":6,"strokeCap":"round","interpolate":"monotone"}}]}],"resolve":{"scale":{"y":"independent"}}},
{"transform":[{"filter":"datum.f==236"}],"width":341,"height":122.2,"encoding":{"x":{"field":"t","type":"quantitative","scale":{"domain":[0,20]},"axis":null}},"layer":[{"encoding":{"y":{"field":"v","type":"quantitative","scale":{"domain":[-123.3,91.05]},"axis":null}},"layer":[{"transform":[{"filter":"datum.s=='e'"}],"mark":{"type":"line","color":"#40e6f0","strokeWidth":5,"interpolate":"monotone"}},{"transform":[{"filter":"datum.s=='w'"}],"mark":{"type":"line","color":"#000","strokeWidth":1.8,"interpolate":"monotone"}},{"transform":[{"filter":"datum.s=='q'"}],"mark":{"type":"point","shape":"square","size":115,"filled":false,"color":"#000","strokeWidth":1.5,"opacity":1}},{"transform":[{"filter":"datum.s=='c'"}],"mark":{"type":"point","shape":"circle","size":135,"filled":false,"color":"#000","strokeWidth":1.5,"opacity":1}},{"transform":[{"filter":"datum.s=='L'"}],"mark":{"type":"text","fontSize":22,"align":"right","baseline":"middle","color":"#000"},"encoding":{"text":{"field":"l"}}}]},{"encoding":{"y":{"field":"v","type":"quantitative","scale":{"domain":[-103.4,76.3]},"axis":null}},"layer":[{"transform":[{"filter":"datum.s=='d'"}],"mark":{"type":"line","color":"#f00","strokeWidth":1.7,"strokeDash":[8,5]}},{"transform":[{"filter":"datum.s=='r'"}],"mark":{"type":"line","color":"#f00","strokeWidth":1.6,"interpolate":"monotone"}},{"transform":[{"filter":"datum.s=='k'"}],"mark":{"type":"line","color":"#f00","strokeWidth":6,"strokeCap":"round","interpolate":"monotone"}}]}],"resolve":{"scale":{"y":"independent"}}},
{"transform":[{"filter":"datum.f==2381"}],"width":340,"height":122.2,"encoding":{"x":{"field":"t","type":"quantitative","scale":{"domain":[0,5]},"axis":null}},"layer":[{"encoding":{"y":{"field":"v","type":"quantitative","scale":{"domain":[-123.3,91.05]},"axis":null}},"layer":[{"transform":[{"filter":"datum.s=='e'"}],"mark":{"type":"line","color":"#40e6f0","strokeWidth":5,"interpolate":"monotone"}},{"transform":[{"filter":"datum.s=='w'"}],"mark":{"type":"line","color":"#000","strokeWidth":1.8,"interpolate":"monotone"}},{"transform":[{"filter":"datum.s=='q'"}],"mark":{"type":"point","shape":"square","size":115,"filled":false,"color":"#000","strokeWidth":1.5,"opacity":1}},{"transform":[{"filter":"datum.s=='c'"}],"mark":{"type":"point","shape":"circle","size":135,"filled":false,"color":"#000","strokeWidth":1.5,"opacity":1}},{"transform":[{"filter":"datum.s=='L'"}],"mark":{"type":"text","fontSize":22,"align":"left","baseline":"middle","color":"#000"},"encoding":{"text":{"field":"l"}}}]},{"encoding":{"y":{"field":"v","type":"quantitative","scale":{"domain":[-781.1,576.7]},"axis":null}},"layer":[{"transform":[{"filter":"datum.s=='d'"}],"mark":{"type":"line","color":"#f00","strokeWidth":1.7,"strokeDash":[8,5]}},{"transform":[{"filter":"datum.s=='r'"}],"mark":{"type":"line","color":"#f00","strokeWidth":1.6,"interpolate":"monotone"}},{"transform":[{"filter":"datum.s=='k'"}],"mark":{"type":"line","color":"#f00","strokeWidth":6,"strokeCap":"round","interpolate":"monotone"}}]}],"resolve":{"scale":{"y":"independent"}}},
{"transform":[{"filter":"datum.f==298"}],"width":341,"height":122.2,"encoding":{"x":{"field":"t","type":"quantitative","scale":{"domain":[0,20]},"axis":null}},"layer":[{"encoding":{"y":{"field":"v","type":"quantitative","scale":{"domain":[-123.3,91.05]},"axis":null}},"layer":[{"transform":[{"filter":"datum.s=='e'"}],"mark":{"type":"line","color":"#40e6f0","strokeWidth":5,"interpolate":"monotone"}},{"transform":[{"filter":"datum.s=='w'"}],"mark":{"type":"line","color":"#000","strokeWidth":1.8,"interpolate":"monotone"}},{"transform":[{"filter":"datum.s=='q'"}],"mark":{"type":"point","shape":"square","size":115,"filled":false,"color":"#000","strokeWidth":1.5,"opacity":1}},{"transform":[{"filter":"datum.s=='c'"}],"mark":{"type":"point","shape":"circle","size":135,"filled":false,"color":"#000","strokeWidth":1.5,"opacity":1}},{"transform":[{"filter":"datum.s=='L'"}],"mark":{"type":"text","fontSize":22,"align":"right","baseline":"middle","color":"#000"},"encoding":{"text":{"field":"l"}}}]},{"encoding":{"y":{"field":"v","type":"quantitative","scale":{"domain":[-103.4,76.3]},"axis":null}},"layer":[{"transform":[{"filter":"datum.s=='d'"}],"mark":{"type":"line","color":"#f00","strokeWidth":1.7,"strokeDash":[8,5]}},{"transform":[{"filter":"datum.s=='r'"}],"mark":{"type":"line","color":"#f00","strokeWidth":1.6,"interpolate":"monotone"}},{"transform":[{"filter":"datum.s=='k'"}],"mark":{"type":"line","color":"#f00","strokeWidth":6,"strokeCap":"round","interpolate":"monotone"}}]}],"resolve":{"scale":{"y":"independent"}}},
{"transform":[{"filter":"datum.f==3000"}],"width":340,"height":122.2,"encoding":{"x":{"field":"t","type":"quantitative","scale":{"domain":[0,5]},"axis":null}},"layer":[{"encoding":{"y":{"field":"v","type":"quantitative","scale":{"domain":[-123.3,91.05]},"axis":null}},"layer":[{"transform":[{"filter":"datum.s=='e'"}],"mark":{"type":"line","color":"#40e6f0","strokeWidth":5,"interpolate":"monotone"}},{"transform":[{"filter":"datum.s=='w'"}],"mark":{"type":"line","color":"#000","strokeWidth":1.8,"interpolate":"monotone"}},{"transform":[{"filter":"datum.s=='q'"}],"mark":{"type":"point","shape":"square","size":115,"filled":false,"color":"#000","strokeWidth":1.5,"opacity":1}},{"transform":[{"filter":"datum.s=='c'"}],"mark":{"type":"point","shape":"circle","size":135,"filled":false,"color":"#000","strokeWidth":1.5,"opacity":1}},{"transform":[{"filter":"datum.s=='L'"}],"mark":{"type":"text","fontSize":22,"align":"left","baseline":"middle","color":"#000"},"encoding":{"text":{"field":"l"}}}]},{"encoding":{"y":{"field":"v","type":"quantitative","scale":{"domain":[-781.1,576.7]},"axis":null}},"layer":[{"transform":[{"filter":"datum.s=='d'"}],"mark":{"type":"line","color":"#f00","strokeWidth":1.7,"strokeDash":[8,5]}},{"transform":[{"filter":"datum.s=='r'"}],"mark":{"type":"line","color":"#f00","strokeWidth":1.6,"interpolate":"monotone"}},{"transform":[{"filter":"datum.s=='k'"}],"mark":{"type":"line","color":"#f00","strokeWidth":6,"strokeCap":"round","interpolate":"monotone"}}]}],"resolve":{"scale":{"y":"independent"}}},
{"transform":[{"filter":"datum.f==375"}],"width":341,"height":122.2,"encoding":{"x":{"field":"t","type":"quantitative","scale":{"domain":[0,20]},"axis":null}},"layer":[{"encoding":{"y":{"field":"v","type":"quantitative","scale":{"domain":[-123.3,91.05]},"axis":null}},"layer":[{"transform":[{"filter":"datum.s=='e'"}],"mark":{"type":"line","color":"#40e6f0","strokeWidth":5,"interpolate":"monotone"}},{"transform":[{"filter":"datum.s=='w'"}],"mark":{"type":"line","color":"#000","strokeWidth":1.8,"interpolate":"monotone"}},{"transform":[{"filter":"datum.s=='q'"}],"mark":{"type":"point","shape":"square","size":115,"filled":false,"color":"#000","strokeWidth":1.5,"opacity":1}},{"transform":[{"filter":"datum.s=='c'"}],"mark":{"type":"point","shape":"circle","size":135,"filled":false,"color":"#000","strokeWidth":1.5,"opacity":1}},{"transform":[{"filter":"datum.s=='L'"}],"mark":{"type":"text","fontSize":22,"align":"right","baseline":"middle","color":"#000"},"encoding":{"text":{"field":"l"}}}]},{"encoding":{"y":{"field":"v","type":"quantitative","scale":{"domain":[-103.4,76.3]},"axis":null}},"layer":[{"transform":[{"filter":"datum.s=='d'"}],"mark":{"type":"line","color":"#f00","strokeWidth":1.7,"strokeDash":[8,5]}},{"transform":[{"filter":"datum.s=='r'"}],"mark":{"type":"line","color":"#f00","strokeWidth":1.6,"interpolate":"monotone"}},{"transform":[{"filter":"datum.s=='k'"}],"mark":{"type":"line","color":"#f00","strokeWidth":6,"strokeCap":"round","interpolate":"monotone"}}]}],"resolve":{"scale":{"y":"independent"}}},
{"transform":[{"filter":"datum.f==3780"}],"width":340,"height":122.2,"encoding":{"x":{"field":"t","type":"quantitative","scale":{"domain":[0,5]},"axis":null}},"layer":[{"encoding":{"y":{"field":"v","type":"quantitative","scale":{"domain":[-123.3,91.05]},"axis":null}},"layer":[{"transform":[{"filter":"datum.s=='e'"}],"mark":{"type":"line","color":"#40e6f0","strokeWidth":5,"interpolate":"monotone"}},{"transform":[{"filter":"datum.s=='w'"}],"mark":{"type":"line","color":"#000","strokeWidth":1.8,"interpolate":"monotone"}},{"transform":[{"filter":"datum.s=='q'"}],"mark":{"type":"point","shape":"square","size":115,"filled":false,"color":"#000","strokeWidth":1.5,"opacity":1}},{"transform":[{"filter":"datum.s=='c'"}],"mark":{"type":"point","shape":"circle","size":135,"filled":false,"color":"#000","strokeWidth":1.5,"opacity":1}},{"transform":[{"filter":"datum.s=='L'"}],"mark":{"type":"text","fontSize":22,"align":"left","baseline":"middle","color":"#000"},"encoding":{"text":{"field":"l"}}}]},{"encoding":{"y":{"field":"v","type":"quantitative","scale":{"domain":[-781.1,576.7]},"axis":null}},"layer":[{"transform":[{"filter":"datum.s=='d'"}],"mark":{"type":"line","color":"#f00","strokeWidth":1.7,"strokeDash":[8,5]}},{"transform":[{"filter":"datum.s=='r'"}],"mark":{"type":"line","color":"#f00","strokeWidth":1.6,"interpolate":"monotone"}},{"transform":[{"filter":"datum.s=='k'"}],"mark":{"type":"line","color":"#f00","strokeWidth":6,"strokeCap":"round","interpolate":"monotone"}}]}],"resolve":{"scale":{"y":"independent"}}},
{"transform":[{"filter":"datum.f==472"}],"width":341,"height":122.2,"encoding":{"x":{"field":"t","type":"quantitative","scale":{"domain":[0,20]},"axis":{"values":[0,4,8,12,16,20],"format":"d","tickSize":-14,"title":null}}},"layer":[{"encoding":{"y":{"field":"v","type":"quantitative","scale":{"domain":[-123.3,91.05]},"axis":null}},"layer":[{"transform":[{"filter":"datum.s=='e'"}],"mark":{"type":"line","color":"#40e6f0","strokeWidth":5,"interpolate":"monotone"}},{"transform":[{"filter":"datum.s=='w'"}],"mark":{"type":"line","color":"#000","strokeWidth":1.8,"interpolate":"monotone"}},{"transform":[{"filter":"datum.s=='q'"}],"mark":{"type":"point","shape":"square","size":115,"filled":false,"color":"#000","strokeWidth":1.5,"opacity":1}},{"transform":[{"filter":"datum.s=='c'"}],"mark":{"type":"point","shape":"circle","size":135,"filled":false,"color":"#000","strokeWidth":1.5,"opacity":1}},{"transform":[{"filter":"datum.s=='L'"}],"mark":{"type":"text","fontSize":22,"align":"right","baseline":"middle","color":"#000"},"encoding":{"text":{"field":"l"}}}]},{"encoding":{"x":{"field":"t","type":"quantitative","scale":{"domain":[0,20]},"axis":{"orient":"bottom","values":[1,2,3,5,6,7,9,10,11,13,14,15,17,18,19],"tickSize":-8,"domain":false,"labels":false,"title":null}},"y":{"field":"v","type":"quantitative","scale":{"domain":[-103.4,76.3]},"axis":null}},"layer":[{"transform":[{"filter":"datum.s=='d'"}],"mark":{"type":"line","color":"#f00","strokeWidth":1.7,"strokeDash":[8,5]}},{"transform":[{"filter":"datum.s=='r'"}],"mark":{"type":"line","color":"#f00","strokeWidth":1.6,"interpolate":"monotone"}},{"transform":[{"filter":"datum.s=='k'"}],"mark":{"type":"line","color":"#f00","strokeWidth":6,"strokeCap":"round","interpolate":"monotone"}},{"transform":[{"filter":"datum.s=='b'"}],"mark":{"type":"rule","color":"#f00","strokeWidth":2},"encoding":{"y2":{"field":"v2"}}},{"transform":[{"filter":"datum.s=='bc'"}],"mark":{"type":"tick","orient":"horizontal","size":12,"thickness":2,"color":"#f00","opacity":1}},{"transform":[{"filter":"datum.s=='bl'"}],"mark":{"type":"text","fontSize":14,"align":"right","baseline":"middle","color":"#f00"},"encoding":{"text":{"field":"l"}}}]}],"resolve":{"scale":{"y":"independent"},"axis":{"x":"independent"}}},
{"transform":[{"filter":"datum.f==4762"}],"width":340,"height":122.2,"encoding":{"x":{"field":"t","type":"quantitative","scale":{"domain":[0,5]},"axis":{"values":[0,1,2,3,4,5],"format":"d","tickSize":-14,"title":null}}},"layer":[{"encoding":{"y":{"field":"v","type":"quantitative","scale":{"domain":[-123.3,91.05]},"axis":null}},"layer":[{"transform":[{"filter":"datum.s=='e'"}],"mark":{"type":"line","color":"#40e6f0","strokeWidth":5,"interpolate":"monotone"}},{"transform":[{"filter":"datum.s=='w'"}],"mark":{"type":"line","color":"#000","strokeWidth":1.8,"interpolate":"monotone"}},{"transform":[{"filter":"datum.s=='q'"}],"mark":{"type":"point","shape":"square","size":115,"filled":false,"color":"#000","strokeWidth":1.5,"opacity":1}},{"transform":[{"filter":"datum.s=='c'"}],"mark":{"type":"point","shape":"circle","size":135,"filled":false,"color":"#000","strokeWidth":1.5,"opacity":1}},{"transform":[{"filter":"datum.s=='L'"}],"mark":{"type":"text","fontSize":22,"align":"left","baseline":"middle","color":"#000"},"encoding":{"text":{"field":"l"}}}]},{"encoding":{"x":{"field":"t","type":"quantitative","scale":{"domain":[0,5]},"axis":{"orient":"bottom","values":[0.5,1.5,2.5,3.5,4.5],"tickSize":-8,"domain":false,"labels":false,"title":null}},"y":{"field":"v","type":"quantitative","scale":{"domain":[-781.1,576.7]},"axis":null}},"layer":[{"transform":[{"filter":"datum.s=='d'"}],"mark":{"type":"line","color":"#f00","strokeWidth":1.7,"strokeDash":[8,5]}},{"transform":[{"filter":"datum.s=='r'"}],"mark":{"type":"line","color":"#f00","strokeWidth":1.6,"interpolate":"monotone"}},{"transform":[{"filter":"datum.s=='k'"}],"mark":{"type":"line","color":"#f00","strokeWidth":6,"strokeCap":"round","interpolate":"monotone"}},{"transform":[{"filter":"datum.s=='b'"}],"mark":{"type":"rule","color":"#f00","strokeWidth":2},"encoding":{"y2":{"field":"v2"}}},{"transform":[{"filter":"datum.s=='bc'"}],"mark":{"type":"tick","orient":"horizontal","size":12,"thickness":2,"color":"#f00","opacity":1}},{"transform":[{"filter":"datum.s=='bl'"}],"mark":{"type":"text","fontSize":14,"align":"right","baseline":"middle","color":"#f00"},"encoding":{"text":{"field":"l"}}}]}],"resolve":{"scale":{"y":"independent"},"axis":{"x":"independent"}}},
{"transform":[{"filter":"datum.f==595"}],"width":341,"height":154.7,"encoding":{"x":{"field":"t","type":"quantitative","scale":{"domain":[0,10]},"axis":null}},"layer":[{"encoding":{"y":{"field":"v","type":"quantitative","scale":{"domain":[-121.05,150.35]},"axis":null}},"layer":[{"transform":[{"filter":"datum.s=='e'"}],"mark":{"type":"line","color":"#40e6f0","strokeWidth":5,"interpolate":"monotone"}},{"transform":[{"filter":"datum.s=='w'"}],"mark":{"type":"line","color":"#000","strokeWidth":1.8,"interpolate":"monotone"}},{"transform":[{"filter":"datum.s=='q'"}],"mark":{"type":"point","shape":"square","size":115,"filled":false,"color":"#000","strokeWidth":1.5,"opacity":1}},{"transform":[{"filter":"datum.s=='c'"}],"mark":{"type":"point","shape":"circle","size":135,"filled":false,"color":"#000","strokeWidth":1.5,"opacity":1}},{"transform":[{"filter":"datum.s=='L'"}],"mark":{"type":"text","fontSize":22,"align":"right","baseline":"middle","color":"#000"},"encoding":{"text":{"field":"l"}}}]},{"encoding":{"y":{"field":"v","type":"quantitative","scale":{"domain":[-252.7,313.9]},"axis":null}},"layer":[{"transform":[{"filter":"datum.s=='d'"}],"mark":{"type":"line","color":"#f00","strokeWidth":1.7,"strokeDash":[8,5]}},{"transform":[{"filter":"datum.s=='r'"}],"mark":{"type":"line","color":"#f00","strokeWidth":1.6,"interpolate":"monotone"}},{"transform":[{"filter":"datum.s=='k'"}],"mark":{"type":"line","color":"#f00","strokeWidth":6,"strokeCap":"round","interpolate":"monotone"}}]}],"resolve":{"scale":{"y":"independent"}}},
{"transform":[{"filter":"datum.f==6000"}],"width":340,"height":154.7,"encoding":{"x":{"field":"t","type":"quantitative","scale":{"domain":[0,2.5]},"axis":null}},"layer":[{"encoding":{"y":{"field":"v","type":"quantitative","scale":{"domain":[-121.05,150.35]},"axis":null}},"layer":[{"transform":[{"filter":"datum.s=='e'"}],"mark":{"type":"line","color":"#40e6f0","strokeWidth":5,"interpolate":"monotone"}},{"transform":[{"filter":"datum.s=='w'"}],"mark":{"type":"line","color":"#000","strokeWidth":1.8,"interpolate":"monotone"}},{"transform":[{"filter":"datum.s=='q'"}],"mark":{"type":"point","shape":"square","size":115,"filled":false,"color":"#000","strokeWidth":1.5,"opacity":1}},{"transform":[{"filter":"datum.s=='c'"}],"mark":{"type":"point","shape":"circle","size":135,"filled":false,"color":"#000","strokeWidth":1.5,"opacity":1}},{"transform":[{"filter":"datum.s=='L'"}],"mark":{"type":"text","fontSize":22,"align":"left","baseline":"middle","color":"#000"},"encoding":{"text":{"field":"l"}}}]},{"encoding":{"y":{"field":"v","type":"quantitative","scale":{"domain":[-2524.7,3135.8]},"axis":null}},"layer":[{"transform":[{"filter":"datum.s=='d'"}],"mark":{"type":"line","color":"#f00","strokeWidth":1.7,"strokeDash":[8,5]}},{"transform":[{"filter":"datum.s=='r'"}],"mark":{"type":"line","color":"#f00","strokeWidth":1.6,"interpolate":"monotone"}},{"transform":[{"filter":"datum.s=='k'"}],"mark":{"type":"line","color":"#f00","strokeWidth":6,"strokeCap":"round","interpolate":"monotone"}}]}],"resolve":{"scale":{"y":"independent"}}},
{"transform":[{"filter":"datum.f==750"}],"width":341,"height":121,"encoding":{"x":{"field":"t","type":"quantitative","scale":{"domain":[0,10]},"axis":null}},"layer":[{"encoding":{"y":{"field":"v","type":"quantitative","scale":{"domain":[-121.05,91.23]},"axis":null}},"layer":[{"transform":[{"filter":"datum.s=='e'"}],"mark":{"type":"line","color":"#40e6f0","strokeWidth":5,"interpolate":"monotone"}},{"transform":[{"filter":"datum.s=='w'"}],"mark":{"type":"line","color":"#000","strokeWidth":1.8,"interpolate":"monotone"}},{"transform":[{"filter":"datum.s=='q'"}],"mark":{"type":"point","shape":"square","size":115,"filled":false,"color":"#000","strokeWidth":1.5,"opacity":1}},{"transform":[{"filter":"datum.s=='c'"}],"mark":{"type":"point","shape":"circle","size":135,"filled":false,"color":"#000","strokeWidth":1.5,"opacity":1}},{"transform":[{"filter":"datum.s=='L'"}],"mark":{"type":"text","fontSize":22,"align":"right","baseline":"middle","color":"#000"},"encoding":{"text":{"field":"l"}}}]},{"encoding":{"y":{"field":"v","type":"quantitative","scale":{"domain":[-252.7,190.5]},"axis":null}},"layer":[{"transform":[{"filter":"datum.s=='d'"}],"mark":{"type":"line","color":"#f00","strokeWidth":1.7,"strokeDash":[8,5]}},{"transform":[{"filter":"datum.s=='r'"}],"mark":{"type":"line","color":"#f00","strokeWidth":1.6,"interpolate":"monotone"}},{"transform":[{"filter":"datum.s=='k'"}],"mark":{"type":"line","color":"#f00","strokeWidth":6,"strokeCap":"round","interpolate":"monotone"}}]}],"resolve":{"scale":{"y":"independent"}}},
{"transform":[{"filter":"datum.f==7560"}],"width":340,"height":121,"encoding":{"x":{"field":"t","type":"quantitative","scale":{"domain":[0,2.5]},"axis":null}},"layer":[{"encoding":{"y":{"field":"v","type":"quantitative","scale":{"domain":[-121.05,91.23]},"axis":null}},"layer":[{"transform":[{"filter":"datum.s=='e'"}],"mark":{"type":"line","color":"#40e6f0","strokeWidth":5,"interpolate":"monotone"}},{"transform":[{"filter":"datum.s=='w'"}],"mark":{"type":"line","color":"#000","strokeWidth":1.8,"interpolate":"monotone"}},{"transform":[{"filter":"datum.s=='q'"}],"mark":{"type":"point","shape":"square","size":115,"filled":false,"color":"#000","strokeWidth":1.5,"opacity":1}},{"transform":[{"filter":"datum.s=='c'"}],"mark":{"type":"point","shape":"circle","size":135,"filled":false,"color":"#000","strokeWidth":1.5,"opacity":1}},{"transform":[{"filter":"datum.s=='L'"}],"mark":{"type":"text","fontSize":22,"align":"left","baseline":"middle","color":"#000"},"encoding":{"text":{"field":"l"}}}]},{"encoding":{"y":{"field":"v","type":"quantitative","scale":{"domain":[-2524.7,1902.7]},"axis":null}},"layer":[{"transform":[{"filter":"datum.s=='d'"}],"mark":{"type":"line","color":"#f00","strokeWidth":1.7,"strokeDash":[8,5]}},{"transform":[{"filter":"datum.s=='r'"}],"mark":{"type":"line","color":"#f00","strokeWidth":1.6,"interpolate":"monotone"}},{"transform":[{"filter":"datum.s=='k'"}],"mark":{"type":"line","color":"#f00","strokeWidth":6,"strokeCap":"round","interpolate":"monotone"}}]}],"resolve":{"scale":{"y":"independent"}}},
{"transform":[{"filter":"datum.f==945"}],"width":341,"height":121,"encoding":{"x":{"field":"t","type":"quantitative","scale":{"domain":[0,10]},"axis":null}},"layer":[{"encoding":{"y":{"field":"v","type":"quantitative","scale":{"domain":[-121.05,91.23]},"axis":null}},"layer":[{"transform":[{"filter":"datum.s=='e'"}],"mark":{"type":"line","color":"#40e6f0","strokeWidth":5,"interpolate":"monotone"}},{"transform":[{"filter":"datum.s=='w'"}],"mark":{"type":"line","color":"#000","strokeWidth":1.8,"interpolate":"monotone"}},{"transform":[{"filter":"datum.s=='q'"}],"mark":{"type":"point","shape":"square","size":115,"filled":false,"color":"#000","strokeWidth":1.5,"opacity":1}},{"transform":[{"filter":"datum.s=='c'"}],"mark":{"type":"point","shape":"circle","size":135,"filled":false,"color":"#000","strokeWidth":1.5,"opacity":1}},{"transform":[{"filter":"datum.s=='L'"}],"mark":{"type":"text","fontSize":22,"align":"right","baseline":"middle","color":"#000"},"encoding":{"text":{"field":"l"}}}]},{"encoding":{"y":{"field":"v","type":"quantitative","scale":{"domain":[-252.7,190.5]},"axis":null}},"layer":[{"transform":[{"filter":"datum.s=='d'"}],"mark":{"type":"line","color":"#f00","strokeWidth":1.7,"strokeDash":[8,5]}},{"transform":[{"filter":"datum.s=='r'"}],"mark":{"type":"line","color":"#f00","strokeWidth":1.6,"interpolate":"monotone"}},{"transform":[{"filter":"datum.s=='k'"}],"mark":{"type":"line","color":"#f00","strokeWidth":6,"strokeCap":"round","interpolate":"monotone"}}]}],"resolve":{"scale":{"y":"independent"}}},
{"transform":[{"filter":"datum.f==9524"}],"width":340,"height":121,"encoding":{"x":{"field":"t","type":"quantitative","scale":{"domain":[0,2.5]},"axis":null}},"layer":[{"encoding":{"y":{"field":"v","type":"quantitative","scale":{"domain":[-121.05,91.23]},"axis":null}},"layer":[{"transform":[{"filter":"datum.s=='e'"}],"mark":{"type":"line","color":"#40e6f0","strokeWidth":5,"interpolate":"monotone"}},{"transform":[{"filter":"datum.s=='w'"}],"mark":{"type":"line","color":"#000","strokeWidth":1.8,"interpolate":"monotone"}},{"transform":[{"filter":"datum.s=='q'"}],"mark":{"type":"point","shape":"square","size":115,"filled":false,"color":"#000","strokeWidth":1.5,"opacity":1}},{"transform":[{"filter":"datum.s=='c'"}],"mark":{"type":"point","shape":"circle","size":135,"filled":false,"color":"#000","strokeWidth":1.5,"opacity":1}},{"transform":[{"filter":"datum.s=='L'"}],"mark":{"type":"text","fontSize":22,"align":"left","baseline":"middle","color":"#000"},"encoding":{"text":{"field":"l"}}}]},{"encoding":{"y":{"field":"v","type":"quantitative","scale":{"domain":[-2524.7,1902.7]},"axis":null}},"layer":[{"transform":[{"filter":"datum.s=='d'"}],"mark":{"type":"line","color":"#f00","strokeWidth":1.7,"strokeDash":[8,5]}},{"transform":[{"filter":"datum.s=='r'"}],"mark":{"type":"line","color":"#f00","strokeWidth":1.6,"interpolate":"monotone"}},{"transform":[{"filter":"datum.s=='k'"}],"mark":{"type":"line","color":"#f00","strokeWidth":6,"strokeCap":"round","interpolate":"monotone"}}]}],"resolve":{"scale":{"y":"independent"}}},
{"transform":[{"filter":"datum.f==1191"}],"width":341,"height":121,"encoding":{"x":{"field":"t","type":"quantitative","scale":{"domain":[0,10]},"axis":null}},"layer":[{"encoding":{"y":{"field":"v","type":"quantitative","scale":{"domain":[-121.05,91.23]},"axis":null}},"layer":[{"transform":[{"filter":"datum.s=='e'"}],"mark":{"type":"line","color":"#40e6f0","strokeWidth":5,"interpolate":"monotone"}},{"transform":[{"filter":"datum.s=='w'"}],"mark":{"type":"line","color":"#000","strokeWidth":1.8,"interpolate":"monotone"}},{"transform":[{"filter":"datum.s=='q'"}],"mark":{"type":"point","shape":"square","size":115,"filled":false,"color":"#000","strokeWidth":1.5,"opacity":1}},{"transform":[{"filter":"datum.s=='c'"}],"mark":{"type":"point","shape":"circle","size":135,"filled":false,"color":"#000","strokeWidth":1.5,"opacity":1}},{"transform":[{"filter":"datum.s=='L'"}],"mark":{"type":"text","fontSize":22,"align":"right","baseline":"middle","color":"#000"},"encoding":{"text":{"field":"l"}}}]},{"encoding":{"y":{"field":"v","type":"quantitative","scale":{"domain":[-252.7,190.5]},"axis":null}},"layer":[{"transform":[{"filter":"datum.s=='d'"}],"mark":{"type":"line","color":"#f00","strokeWidth":1.7,"strokeDash":[8,5]}},{"transform":[{"filter":"datum.s=='r'"}],"mark":{"type":"line","color":"#f00","strokeWidth":1.6,"interpolate":"monotone"}},{"transform":[{"filter":"datum.s=='k'"}],"mark":{"type":"line","color":"#f00","strokeWidth":6,"strokeCap":"round","interpolate":"monotone"}}]}],"resolve":{"scale":{"y":"independent"}}},
{"transform":[{"filter":"datum.f==12000"}],"width":340,"height":121,"encoding":{"x":{"field":"t","type":"quantitative","scale":{"domain":[0,2.5]},"axis":null}},"layer":[{"encoding":{"y":{"field":"v","type":"quantitative","scale":{"domain":[-121.05,91.23]},"axis":null}},"layer":[{"transform":[{"filter":"datum.s=='e'"}],"mark":{"type":"line","color":"#40e6f0","strokeWidth":5,"interpolate":"monotone"}},{"transform":[{"filter":"datum.s=='w'"}],"mark":{"type":"line","color":"#000","strokeWidth":1.8,"interpolate":"monotone"}},{"transform":[{"filter":"datum.s=='q'"}],"mark":{"type":"point","shape":"square","size":115,"filled":false,"color":"#000","strokeWidth":1.5,"opacity":1}},{"transform":[{"filter":"datum.s=='c'"}],"mark":{"type":"point","shape":"circle","size":135,"filled":false,"color":"#000","strokeWidth":1.5,"opacity":1}},{"transform":[{"filter":"datum.s=='L'"}],"mark":{"type":"text","fontSize":22,"align":"left","baseline":"middle","color":"#000"},"encoding":{"text":{"field":"l"}}}]},{"encoding":{"y":{"field":"v","type":"quantitative","scale":{"domain":[-2524.7,1902.7]},"axis":null}},"layer":[{"transform":[{"filter":"datum.s=='d'"}],"mark":{"type":"line","color":"#f00","strokeWidth":1.7,"strokeDash":[8,5]}},{"transform":[{"filter":"datum.s=='r'"}],"mark":{"type":"line","color":"#f00","strokeWidth":1.6,"interpolate":"monotone"}},{"transform":[{"filter":"datum.s=='k'"}],"mark":{"type":"line","color":"#f00","strokeWidth":6,"strokeCap":"round","interpolate":"monotone"}}]}],"resolve":{"scale":{"y":"independent"}}},
{"transform":[{"filter":"datum.f==1500"}],"width":341,"height":121,"encoding":{"x":{"field":"t","type":"quantitative","scale":{"domain":[0,10]},"axis":{"values":[0,2,4,6,8,10],"format":"d","tickSize":-14,"title":null}}},"layer":[{"encoding":{"y":{"field":"v","type":"quantitative","scale":{"domain":[-121.05,91.23]},"axis":null}},"layer":[{"transform":[{"filter":"datum.s=='e'"}],"mark":{"type":"line","color":"#40e6f0","strokeWidth":5,"interpolate":"monotone"}},{"transform":[{"filter":"datum.s=='w'"}],"mark":{"type":"line","color":"#000","strokeWidth":1.8,"interpolate":"monotone"}},{"transform":[{"filter":"datum.s=='q'"}],"mark":{"type":"point","shape":"square","size":115,"filled":false,"color":"#000","strokeWidth":1.5,"opacity":1}},{"transform":[{"filter":"datum.s=='c'"}],"mark":{"type":"point","shape":"circle","size":135,"filled":false,"color":"#000","strokeWidth":1.5,"opacity":1}},{"transform":[{"filter":"datum.s=='L'"}],"mark":{"type":"text","fontSize":22,"align":"right","baseline":"middle","color":"#000"},"encoding":{"text":{"field":"l"}}}]},{"encoding":{"x":{"field":"t","type":"quantitative","scale":{"domain":[0,10]},"axis":{"orient":"bottom","values":[1,3,5,7,9],"tickSize":-8,"domain":false,"labels":false,"title":null}},"y":{"field":"v","type":"quantitative","scale":{"domain":[-252.7,190.5]},"axis":null}},"layer":[{"transform":[{"filter":"datum.s=='d'"}],"mark":{"type":"line","color":"#f00","strokeWidth":1.7,"strokeDash":[8,5]}},{"transform":[{"filter":"datum.s=='r'"}],"mark":{"type":"line","color":"#f00","strokeWidth":1.6,"interpolate":"monotone"}},{"transform":[{"filter":"datum.s=='k'"}],"mark":{"type":"line","color":"#f00","strokeWidth":6,"strokeCap":"round","interpolate":"monotone"}},{"transform":[{"filter":"datum.s=='b'"}],"mark":{"type":"rule","color":"#f00","strokeWidth":2},"encoding":{"y2":{"field":"v2"}}},{"transform":[{"filter":"datum.s=='bc'"}],"mark":{"type":"tick","orient":"horizontal","size":12,"thickness":2,"color":"#f00","opacity":1}},{"transform":[{"filter":"datum.s=='bl'"}],"mark":{"type":"text","fontSize":14,"align":"right","baseline":"middle","color":"#f00"},"encoding":{"text":{"field":"l"}}}]}],"resolve":{"scale":{"y":"independent"},"axis":{"x":"independent"}}},
{"transform":[{"filter":"datum.f==15119"}],"width":340,"height":121,"encoding":{"x":{"field":"t","type":"quantitative","scale":{"domain":[0,2.5]},"axis":{"values":[0,0.5,1,1.5,2,2.5],"format":".1f","tickSize":-14,"title":null}}},"layer":[{"encoding":{"y":{"field":"v","type":"quantitative","scale":{"domain":[-121.05,91.23]},"axis":null}},"layer":[{"transform":[{"filter":"datum.s=='e'"}],"mark":{"type":"line","color":"#40e6f0","strokeWidth":5,"interpolate":"monotone"}},{"transform":[{"filter":"datum.s=='w'"}],"mark":{"type":"line","color":"#000","strokeWidth":1.8,"interpolate":"monotone"}},{"transform":[{"filter":"datum.s=='q'"}],"mark":{"type":"point","shape":"square","size":115,"filled":false,"color":"#000","strokeWidth":1.5,"opacity":1}},{"transform":[{"filter":"datum.s=='c'"}],"mark":{"type":"point","shape":"circle","size":135,"filled":false,"color":"#000","strokeWidth":1.5,"opacity":1}},{"transform":[{"filter":"datum.s=='L'"}],"mark":{"type":"text","fontSize":22,"align":"left","baseline":"middle","color":"#000"},"encoding":{"text":{"field":"l"}}}]},{"encoding":{"x":{"field":"t","type":"quantitative","scale":{"domain":[0,2.5]},"axis":{"orient":"bottom","values":[0.25,0.75,1.25,1.75,2.25],"tickSize":-8,"domain":false,"labels":false,"title":null}},"y":{"field":"v","type":"quantitative","scale":{"domain":[-2524.7,1902.7]},"axis":null}},"layer":[{"transform":[{"filter":"datum.s=='d'"}],"mark":{"type":"line","color":"#f00","strokeWidth":1.7,"strokeDash":[8,5]}},{"transform":[{"filter":"datum.s=='r'"}],"mark":{"type":"line","color":"#f00","strokeWidth":1.6,"interpolate":"monotone"}},{"transform":[{"filter":"datum.s=='k'"}],"mark":{"type":"line","color":"#f00","strokeWidth":6,"strokeCap":"round","interpolate":"monotone"}},{"transform":[{"filter":"datum.s=='b'"}],"mark":{"type":"rule","color":"#f00","strokeWidth":2},"encoding":{"y2":{"field":"v2"}}},{"transform":[{"filter":"datum.s=='bc'"}],"mark":{"type":"tick","orient":"horizontal","size":12,"thickness":2,"color":"#f00","opacity":1}},{"transform":[{"filter":"datum.s=='bl'"}],"mark":{"type":"text","fontSize":14,"align":"right","baseline":"middle","color":"#f00"},"encoding":{"text":{"field":"l"}}}]}],"resolve":{"scale":{"y":"independent"},"axis":{"x":"independent"}}}
]
}
